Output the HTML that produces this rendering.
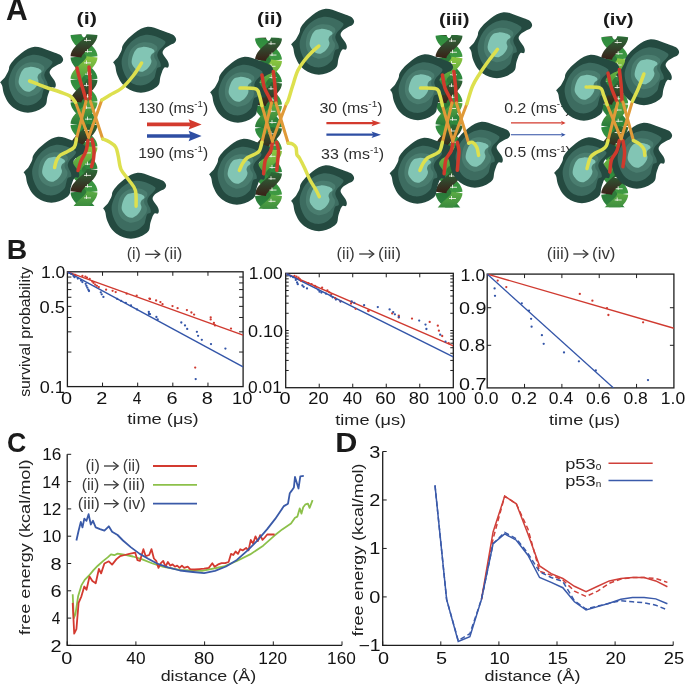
<!DOCTYPE html>
<html><head><meta charset="utf-8"><style>
html,body{margin:0;padding:0;background:#fff;}
svg{display:block;font-family:"Liberation Sans",sans-serif;will-change:transform;}
</style></head><body>
<svg width="685" height="685" viewBox="0 0 685 685">
<defs><linearGradient id="gdark" x1="0" y1="0" x2="0" y2="1"><stop offset="0" stop-color="#2c6a36"/><stop offset="0.55" stop-color="#33412a"/><stop offset="1" stop-color="#3a2218"/></linearGradient>
<linearGradient id="glight" x1="0" y1="0" x2="0" y2="1"><stop offset="0" stop-color="#8cc63f"/><stop offset="1" stop-color="#4a9e40"/></linearGradient>
<linearGradient id="gmid" x1="0" y1="0" x2="0" y2="1"><stop offset="0" stop-color="#5aaa44"/><stop offset="1" stop-color="#2a7a3a"/></linearGradient>
<linearGradient id="gback" x1="0" y1="0" x2="0" y2="1"><stop offset="0" stop-color="#2e8a3e"/><stop offset="1" stop-color="#3f9a42"/></linearGradient>
<linearGradient id="gback2" x1="0" y1="0" x2="0" y2="1"><stop offset="0" stop-color="#2a7a3a"/><stop offset="1" stop-color="#2f8a3e"/></linearGradient><g id="blob" transform="matrix(1,0,0,1.048,0,-1.8)"><path d="M0.4,35.1C1,34.1 3.43,32.65 4.8,30.8C6.17,28.95 7.8,25.85 8.6,24C9.4,22.15 8.63,21.45 9.6,19.7C10.57,17.95 12.47,15.5 14.4,13.5C16.33,11.5 18.95,9.4 21.2,7.7C23.45,6 25.67,4.35 27.9,3.3C30.13,2.25 32.35,1.55 34.6,1.4C36.85,1.25 39.15,1.83 41.4,2.4C43.65,2.97 45.85,4 48.1,4.8C50.35,5.6 52.8,6.4 54.9,7.2C57,8 59.33,8.55 60.7,9.6C62.07,10.65 62.95,12.3 63.1,13.5C63.25,14.7 62.65,15.85 61.6,16.8C60.55,17.75 58.4,18.32 56.8,19.2C55.2,20.08 53.2,20.97 52,22.1C50.8,23.23 49.68,24.72 49.6,26C49.52,27.28 50.7,28.52 51.5,29.8C52.3,31.08 53.68,32.42 54.4,33.7C55.12,34.98 55.72,36.38 55.8,37.5C55.88,38.62 55.62,39.92 54.9,40.4C54.18,40.88 52.47,39.75 51.5,40.4C50.53,41.05 49.82,42.68 49.1,44.3C48.38,45.92 47.68,48.18 47.2,50.1C46.72,52.02 47,54.2 46.2,55.8C45.4,57.4 44.17,58.48 42.4,59.7C40.63,60.92 38.02,62.3 35.6,63.1C33.18,63.9 30.47,64.5 27.9,64.5C25.33,64.5 22.6,63.9 20.2,63.1C17.8,62.3 15.58,61.23 13.5,59.7C11.42,58.17 9.32,56.15 7.7,53.9C6.08,51.65 4.68,48.6 3.8,46.2C2.92,43.8 2.83,41.07 2.4,39.5C1.97,37.93 1.53,37.53 1.2,36.8C0.87,36.07 -0.2,36.1 0.4,35.1Z" fill="#244a40"/><path d="M8.6,34.6C8.68,31.87 9.63,29.3 10.6,26.9C11.57,24.5 12.8,22.28 14.4,20.2C16,18.12 18.12,16 20.2,14.4C22.28,12.8 24.5,11.48 26.9,10.6C29.3,9.72 32.02,9.1 34.6,9.1C37.18,9.1 39.98,9.87 42.4,10.6C44.82,11.33 47.42,12.55 49.1,13.5C50.78,14.45 52.33,15.18 52.5,16.3C52.67,17.42 51.15,18.92 50.1,20.2C49.05,21.48 47.17,22.72 46.2,24C45.23,25.28 44.47,26.6 44.3,27.9C44.13,29.2 44.72,30.52 45.2,31.8C45.68,33.08 46.78,34.32 47.2,35.6C47.62,36.88 48.18,38.62 47.7,39.5C47.22,40.38 45.12,39.95 44.3,40.9C43.48,41.85 43.28,43.67 42.8,45.2C42.32,46.73 42.28,48.65 41.4,50.1C40.52,51.55 39.1,52.78 37.5,53.9C35.9,55.02 33.88,56.23 31.8,56.8C29.72,57.37 27.25,57.62 25,57.3C22.75,56.98 20.22,56.1 18.3,54.9C16.38,53.7 14.87,52.03 13.5,50.1C12.13,48.17 10.92,45.88 10.1,43.3C9.28,40.72 8.52,37.33 8.6,34.6Z" fill="#3d6c60"/><path d="M14.9,35.6C14.83,33.35 15.18,30.15 15.9,27.9C16.62,25.65 17.85,23.7 19.2,22.1C20.55,20.5 22.07,19.27 24,18.3C25.93,17.33 28.55,16.55 30.8,16.3C33.05,16.05 35.42,16.23 37.5,16.8C39.58,17.37 42.17,18.65 43.3,19.7C44.43,20.75 44.62,21.9 44.3,23.1C43.98,24.3 41.88,25.62 41.4,26.9C40.92,28.18 41,29.52 41.4,30.8C41.8,32.08 43.48,33.15 43.8,34.6C44.12,36.05 44.02,37.88 43.3,39.5C42.58,41.12 41.1,42.87 39.5,44.3C37.9,45.73 35.8,47.3 33.7,48.1C31.6,48.9 29.15,49.42 26.9,49.1C24.65,48.78 21.97,47.48 20.2,46.2C18.43,44.92 17.18,43.17 16.3,41.4C15.42,39.63 14.97,37.85 14.9,35.6Z" fill="#4a7d6f"/><path d="M18.7,33.7C18.95,31.93 19.73,28.83 20.7,26.9C21.67,24.97 22.98,23.13 24.5,22.1C26.02,21.07 27.95,20.85 29.8,20.7C31.65,20.55 33.83,20.8 35.6,21.2C37.37,21.6 39.43,22.38 40.4,23.1C41.37,23.82 41.72,24.7 41.4,25.5C41.08,26.3 39.15,27.02 38.5,27.9C37.85,28.78 37.5,29.75 37.5,30.8C37.5,31.85 38.5,33.08 38.5,34.2C38.5,35.32 38.15,36.3 37.5,37.5C36.85,38.7 35.88,40.27 34.6,41.4C33.32,42.53 31.4,43.9 29.8,44.3C28.2,44.7 26.43,44.45 25,43.8C23.57,43.15 22.17,41.45 21.2,40.4C20.23,39.35 19.62,38.62 19.2,37.5C18.78,36.38 18.45,35.47 18.7,33.7Z" fill="#82c5b4"/></g><clipPath id="c1"><rect x="67.4" y="271.8" width="175.7" height="114.8"/></clipPath><clipPath id="c2"><rect x="285.7" y="273.3" width="167.6" height="114.4"/></clipPath><clipPath id="c3"><rect x="487.2" y="274.1" width="186.7" height="113.8"/></clipPath></defs>
<rect width="685" height="685" fill="#fff"/>
<text x="6.11" y="19.7" font-size="30.5" font-weight="bold" fill="#1a1a1a" textLength="21.7" lengthAdjust="spacingAndGlyphs">A</text>
<text x="76.61" y="24.3" font-size="16.8" font-weight="bold" fill="#1a1a1a" textLength="20.48" lengthAdjust="spacingAndGlyphs">(i)</text>
<text x="256.96" y="24.3" font-size="16.8" font-weight="bold" fill="#1a1a1a" textLength="25.48" lengthAdjust="spacingAndGlyphs">(ii)</text>
<text x="438.99" y="25.2" font-size="16.8" font-weight="bold" fill="#1a1a1a" textLength="30.53" lengthAdjust="spacingAndGlyphs">(iii)</text>
<text x="602.98" y="25.2" font-size="16.8" font-weight="bold" fill="#1a1a1a" textLength="30.64" lengthAdjust="spacingAndGlyphs">(iv)</text>
<text x="138.18" y="112.5" font-size="15.3" font-weight="normal" fill="#2e2e2e" textLength="69.96" lengthAdjust="spacingAndGlyphs">130 (ms<tspan font-size="9.5" dy="-5.6">-1</tspan><tspan dy="5.6">)</tspan></text>
<text x="138.18" y="157.5" font-size="15.3" font-weight="normal" fill="#2e2e2e" textLength="69.96" lengthAdjust="spacingAndGlyphs">190 (ms<tspan font-size="9.5" dy="-5.6">-1</tspan><tspan dy="5.6">)</tspan></text>
<text x="319.45" y="112.7" font-size="15.3" font-weight="normal" fill="#2e2e2e" textLength="63.12" lengthAdjust="spacingAndGlyphs">30 (ms<tspan font-size="9.5" dy="-5.6">-1</tspan><tspan dy="5.6">)</tspan></text>
<text x="321.06" y="158.6" font-size="15.3" font-weight="normal" fill="#2e2e2e" textLength="63.02" lengthAdjust="spacingAndGlyphs">33 (ms<tspan font-size="9.5" dy="-5.6">-1</tspan><tspan dy="5.6">)</tspan></text>
<text x="504.27" y="112.7" font-size="15.3" font-weight="normal" fill="#2e2e2e" textLength="66.61" lengthAdjust="spacingAndGlyphs">0.2 (ms<tspan font-size="9.5" dy="-5.6">-1</tspan><tspan dy="5.6">)</tspan></text>
<text x="504.27" y="157.3" font-size="15.3" font-weight="normal" fill="#2e2e2e" textLength="66.61" lengthAdjust="spacingAndGlyphs">0.5 (ms<tspan font-size="9.5" dy="-5.6">-1</tspan><tspan dy="5.6">)</tspan></text>
<path d="M147,124.4H191.6" stroke="#d33a2e" stroke-width="3.7"/><path d="M201.6,124.4L188.6,119.2L190.6,124.4L188.6,129.6Z" fill="#d33a2e"/>
<path d="M147,136H191.6" stroke="#2e4ea3" stroke-width="3.7"/><path d="M201.6,136L188.6,130.8L190.6,136L188.6,141.2Z" fill="#2e4ea3"/>
<path d="M326.4,123.1H374.5" stroke="#d33a2e" stroke-width="2.2"/><path d="M381,123.1L371.5,119.9L373.5,123.1L371.5,126.3Z" fill="#d33a2e"/>
<path d="M326.4,134.7H374.5" stroke="#2e4ea3" stroke-width="2.2"/><path d="M381,134.7L371.5,131.5L373.5,134.7L371.5,137.9Z" fill="#2e4ea3"/>
<path d="M511,122.9H563.6" stroke="#d33a2e" stroke-width="1.1"/><path d="M565.6,122.9L560.6,120.6L562.6,122.9L560.6,125.2Z" fill="#d33a2e"/>
<path d="M511,134.7H563.6" stroke="#2e4ea3" stroke-width="1.1"/><path d="M565.6,134.7L560.6,132.4L562.6,134.7L560.6,137Z" fill="#2e4ea3"/>
<clipPath id="dc1"><rect x="64" y="34.4" width="40" height="171.6"/></clipPath><g clip-path="url(#dc1)">
<rect x="77" y="37.4" width="14" height="165.6" fill="#2e7b3a"/>
<path d="M76,11.9 L76.2,13.51 L76.79,15.11 L77.75,16.72 L79.01,18.33 L80.53,19.94 L82.22,21.54 L84,23.15 L85.78,24.76 L87.47,26.36 L88.99,27.97 L90.25,29.58 L91.21,31.19 L91.8,32.79 L92,34.4" stroke="url(#gback2)" stroke-width="11.0" fill="none"/>
<path d="M76,34.4 L76.2,36.01 L76.79,37.61 L77.75,39.22 L79.01,40.83 L80.53,42.44 L82.22,44.04 L84,45.65 L85.78,47.26 L87.47,48.86 L88.99,50.47 L90.25,52.08 L91.21,53.69 L91.8,55.29 L92,56.9" stroke="url(#gback)" stroke-width="11.0" fill="none"/>
<path d="M76,56.9 L76.2,58.51 L76.79,60.11 L77.75,61.72 L79.01,63.33 L80.53,64.94 L82.22,66.54 L84,68.15 L85.78,69.76 L87.47,71.36 L88.99,72.97 L90.25,74.58 L91.21,76.19 L91.8,77.79 L92,79.4" stroke="url(#gback2)" stroke-width="11.0" fill="none"/>
<path d="M76,79.4 L76.2,81.01 L76.79,82.61 L77.75,84.22 L79.01,85.83 L80.53,87.44 L82.22,89.04 L84,90.65 L85.78,92.26 L87.47,93.86 L88.99,95.47 L90.25,97.08 L91.21,98.69 L91.8,100.29 L92,101.9" stroke="url(#gback)" stroke-width="11.0" fill="none"/>
<path d="M76,101.9 L76.2,103.51 L76.79,105.11 L77.75,106.72 L79.01,108.33 L80.53,109.94 L82.22,111.54 L84,113.15 L85.78,114.76 L87.47,116.36 L88.99,117.97 L90.25,119.58 L91.21,121.19 L91.8,122.79 L92,124.4" stroke="url(#gback2)" stroke-width="11.0" fill="none"/>
<path d="M76,124.4 L76.2,126.01 L76.79,127.61 L77.75,129.22 L79.01,130.83 L80.53,132.44 L82.22,134.04 L84,135.65 L85.78,137.26 L87.47,138.86 L88.99,140.47 L90.25,142.08 L91.21,143.69 L91.8,145.29 L92,146.9" stroke="url(#gback)" stroke-width="11.0" fill="none"/>
<path d="M76,146.9 L76.2,148.51 L76.79,150.11 L77.75,151.72 L79.01,153.33 L80.53,154.94 L82.22,156.54 L84,158.15 L85.78,159.76 L87.47,161.36 L88.99,162.97 L90.25,164.58 L91.21,166.19 L91.8,167.79 L92,169.4" stroke="url(#gback2)" stroke-width="11.0" fill="none"/>
<path d="M76,169.4 L76.2,171.01 L76.79,172.61 L77.75,174.22 L79.01,175.83 L80.53,177.44 L82.22,179.04 L84,180.65 L85.78,182.26 L87.47,183.86 L88.99,185.47 L90.25,187.08 L91.21,188.69 L91.8,190.29 L92,191.9" stroke="url(#gback)" stroke-width="11.0" fill="none"/>
<path d="M76,191.9 L76.2,193.51 L76.79,195.11 L77.75,196.72 L79.01,198.33 L80.53,199.94 L82.22,201.54 L84,203.15 L85.78,204.76 L87.47,206.36 L88.99,207.97 L90.25,209.58 L91.21,211.19 L91.8,212.79 L92,214.4" stroke="url(#gback2)" stroke-width="11.0" fill="none"/>
<path d="M76,214.4 L76.2,216.01 L76.79,217.61 L77.75,219.22 L79.01,220.83 L80.53,222.44 L82.22,224.04 L84,225.65 L85.78,227.26 L87.47,228.86 L88.99,230.47 L90.25,232.08 L91.21,233.69 L91.8,235.29 L92,236.9" stroke="url(#gback)" stroke-width="11.0" fill="none"/>
<path d="M92,11.9 L91.8,13.51 L91.21,15.11 L90.25,16.72 L88.99,18.33 L87.47,19.94 L85.78,21.54 L84,23.15 L82.22,24.76 L80.53,26.36 L79.01,27.97 L77.75,29.58 L76.79,31.19 L76.2,32.79 L76,34.4" stroke="url(#gdark)" stroke-width="11.0" fill="none"/>
<path d="M92,34.4 L91.8,36.01 L91.21,37.61 L90.25,39.22 L88.99,40.83 L87.47,42.44 L85.78,44.04 L84,45.65 L82.22,47.26 L80.53,48.86 L79.01,50.47 L77.75,52.08 L76.79,53.69 L76.2,55.29 L76,56.9" stroke="url(#gdark)" stroke-width="11.0" fill="none"/>
<path d="M92,56.9 L91.8,58.51 L91.21,60.11 L90.25,61.72 L88.99,63.33 L87.47,64.94 L85.78,66.54 L84,68.15 L82.22,69.76 L80.53,71.36 L79.01,72.97 L77.75,74.58 L76.79,76.19 L76.2,77.79 L76,79.4" stroke="url(#glight)" stroke-width="11.0" fill="none"/>
<path d="M92,79.4 L91.8,81.01 L91.21,82.61 L90.25,84.22 L88.99,85.83 L87.47,87.44 L85.78,89.04 L84,90.65 L82.22,92.26 L80.53,93.86 L79.01,95.47 L77.75,97.08 L76.79,98.69 L76.2,100.29 L76,101.9" stroke="url(#gdark)" stroke-width="11.0" fill="none"/>
<path d="M92,101.9 L91.8,103.51 L91.21,105.11 L90.25,106.72 L88.99,108.33 L87.47,109.94 L85.78,111.54 L84,113.15 L82.22,114.76 L80.53,116.36 L79.01,117.97 L77.75,119.58 L76.79,121.19 L76.2,122.79 L76,124.4" stroke="url(#gmid)" stroke-width="11.0" fill="none"/>
<path d="M92,124.4 L91.8,126.01 L91.21,127.61 L90.25,129.22 L88.99,130.83 L87.47,132.44 L85.78,134.04 L84,135.65 L82.22,137.26 L80.53,138.86 L79.01,140.47 L77.75,142.08 L76.79,143.69 L76.2,145.29 L76,146.9" stroke="url(#gdark)" stroke-width="11.0" fill="none"/>
<path d="M92,146.9 L91.8,148.51 L91.21,150.11 L90.25,151.72 L88.99,153.33 L87.47,154.94 L85.78,156.54 L84,158.15 L82.22,159.76 L80.53,161.36 L79.01,162.97 L77.75,164.58 L76.79,166.19 L76.2,167.79 L76,169.4" stroke="url(#glight)" stroke-width="11.0" fill="none"/>
<path d="M92,169.4 L91.8,171.01 L91.21,172.61 L90.25,174.22 L88.99,175.83 L87.47,177.44 L85.78,179.04 L84,180.65 L82.22,182.26 L80.53,183.86 L79.01,185.47 L77.75,187.08 L76.79,188.69 L76.2,190.29 L76,191.9" stroke="url(#gdark)" stroke-width="11.0" fill="none"/>
<path d="M92,191.9 L91.8,193.51 L91.21,195.11 L90.25,196.72 L88.99,198.33 L87.47,199.94 L85.78,201.54 L84,203.15 L82.22,204.76 L80.53,206.36 L79.01,207.97 L77.75,209.58 L76.79,211.19 L76.2,212.79 L76,214.4" stroke="url(#gmid)" stroke-width="11.0" fill="none"/>
<path d="M92,214.4 L91.8,216.01 L91.21,217.61 L90.25,219.22 L88.99,220.83 L87.47,222.44 L85.78,224.04 L84,225.65 L82.22,227.26 L80.53,228.86 L79.01,230.47 L77.75,232.08 L76.79,233.69 L76.2,235.29 L76,236.9" stroke="url(#gdark)" stroke-width="11.0" fill="none"/>
<path d="M84,40.4h7M86.5,37.9v3.5" stroke="#f6f6ee" stroke-width="1" fill="none" opacity="0.85"/>
<path d="M85,51.65h7M87.5,49.15v3.5" stroke="#f6f6ee" stroke-width="1" fill="none" opacity="0.85"/>
<path d="M84,62.9h7M86.5,60.4v3.5" stroke="#f6f6ee" stroke-width="1" fill="none" opacity="0.85"/>
<path d="M85,74.15h7M87.5,71.65v3.5" stroke="#f6f6ee" stroke-width="1" fill="none" opacity="0.85"/>
<path d="M84,85.4h7M86.5,82.9v3.5" stroke="#f6f6ee" stroke-width="1" fill="none" opacity="0.85"/>
<path d="M85,96.65h7M87.5,94.15v3.5" stroke="#f6f6ee" stroke-width="1" fill="none" opacity="0.85"/>
<path d="M84,107.9h7M86.5,105.4v3.5" stroke="#f6f6ee" stroke-width="1" fill="none" opacity="0.85"/>
<path d="M85,119.15h7M87.5,116.65v3.5" stroke="#f6f6ee" stroke-width="1" fill="none" opacity="0.85"/>
<path d="M84,130.4h7M86.5,127.9v3.5" stroke="#f6f6ee" stroke-width="1" fill="none" opacity="0.85"/>
<path d="M85,141.65h7M87.5,139.15v3.5" stroke="#f6f6ee" stroke-width="1" fill="none" opacity="0.85"/>
<path d="M84,152.9h7M86.5,150.4v3.5" stroke="#f6f6ee" stroke-width="1" fill="none" opacity="0.85"/>
<path d="M85,164.15h7M87.5,161.65v3.5" stroke="#f6f6ee" stroke-width="1" fill="none" opacity="0.85"/>
<path d="M84,175.4h7M86.5,172.9v3.5" stroke="#f6f6ee" stroke-width="1" fill="none" opacity="0.85"/>
<path d="M85,186.65h7M87.5,184.15v3.5" stroke="#f6f6ee" stroke-width="1" fill="none" opacity="0.85"/>
<path d="M84,197.9h7M86.5,195.4v3.5" stroke="#f6f6ee" stroke-width="1" fill="none" opacity="0.85"/>
</g><use href="#blob" x="0" y="47"/><use href="#blob" x="113" y="27"/><use href="#blob" x="23.5" y="137"/><use href="#blob" x="103" y="173"/><path d="M77,68C77.5,70 78.92,76.17 80,80C81.08,83.83 82.5,87.67 83.5,91C84.5,94.33 85.58,98.5 86,100" stroke="#cf3a2c" stroke-width="3.5" fill="none" stroke-linecap="round" stroke-linejoin="round"/><path d="M89,67C89.17,69.17 89.78,76.17 90,80C90.22,83.83 90.3,86.83 90.3,90C90.3,93.17 90.05,97.5 90,99" stroke="#cf3a2c" stroke-width="3.5" fill="none" stroke-linecap="round" stroke-linejoin="round"/><path d="M88,140.5C87.67,142.25 87.17,147.58 86,151C84.83,154.42 82.33,157.75 81,161C79.67,164.25 78.5,168.92 78,170.5" stroke="#cf3a2c" stroke-width="3.5" fill="none" stroke-linecap="round" stroke-linejoin="round"/><path d="M92,139.2C92.33,141 93.75,146.7 94,150C94.25,153.3 93.92,156.2 93.5,159C93.08,161.8 91.83,165.5 91.5,166.8" stroke="#cf3a2c" stroke-width="3.5" fill="none" stroke-linecap="round" stroke-linejoin="round"/><path d="M75.5,102.3C77.68,108.13 86.42,131.47 88.6,137.3" stroke="#e09a38" stroke-width="3.0" fill="none" stroke-linecap="round" stroke-linejoin="round"/><path d="M86,101.4C84.4,107.67 78,132.73 76.4,139" stroke="#e09a38" stroke-width="3.0" fill="none" stroke-linecap="round" stroke-linejoin="round"/><path d="M90.4,101.4C92.45,107.67 100.65,132.73 102.7,139" stroke="#e09a38" stroke-width="3.0" fill="none" stroke-linecap="round" stroke-linejoin="round"/><path d="M101.8,100C99.6,106.22 90.8,131.08 88.6,137.3" stroke="#e09a38" stroke-width="3.0" fill="none" stroke-linecap="round" stroke-linejoin="round"/><path d="M29.6,81C32.17,82 39.93,85.17 45,87C50.07,88.83 55.83,90.5 60,92C64.17,93.5 67.42,94.28 70,96C72.58,97.72 74.58,101.25 75.5,102.3" stroke="#dde04e" stroke-width="3.5" fill="none" stroke-linecap="round" stroke-linejoin="round"/><path d="M141.6,63C140.17,65.17 136.27,71.83 133,76C129.73,80.17 125.83,84.83 122,88C118.17,91.17 113.37,93 110,95C106.63,97 103.17,99.17 101.8,100" stroke="#dde04e" stroke-width="3.5" fill="none" stroke-linecap="round" stroke-linejoin="round"/><path d="M76.4,139C76.05,140.35 75.85,144.98 74.3,147.1C72.75,149.22 69.4,150.38 67.1,151.7C64.8,153.02 62.25,153.58 60.5,155C58.75,156.42 57.58,158.12 56.6,160.2C55.62,162.28 54.93,166.28 54.6,167.5" stroke="#dde04e" stroke-width="3.5" fill="none" stroke-linecap="round" stroke-linejoin="round"/><path d="M102.7,139C103.77,139.47 106.93,140.45 109.1,141.8C111.27,143.15 114.17,144.68 115.7,147.1C117.23,149.52 117.42,152.58 118.3,156.3C119.18,160.02 119.25,165.47 121,169.4C122.75,173.33 126.4,176.4 128.8,179.9C131.2,183.4 134.18,186.02 135.4,190.4C136.62,194.78 135.98,203.57 136.1,206.2" stroke="#dde04e" stroke-width="3.5" fill="none" stroke-linecap="round" stroke-linejoin="round"/>
<clipPath id="dc2"><rect x="248.5" y="37.8" width="40" height="170.9"/></clipPath><g clip-path="url(#dc2)">
<rect x="261.5" y="40.8" width="14" height="164.9" fill="#2e7b3a"/>
<path d="M260.5,15.3 L260.7,16.91 L261.29,18.51 L262.25,20.12 L263.51,21.73 L265.03,23.34 L266.72,24.94 L268.5,26.55 L270.28,28.16 L271.97,29.76 L273.49,31.37 L274.75,32.98 L275.71,34.59 L276.3,36.19 L276.5,37.8" stroke="url(#gback2)" stroke-width="11.0" fill="none"/>
<path d="M260.5,37.8 L260.7,39.41 L261.29,41.01 L262.25,42.62 L263.51,44.23 L265.03,45.84 L266.72,47.44 L268.5,49.05 L270.28,50.66 L271.97,52.26 L273.49,53.87 L274.75,55.48 L275.71,57.09 L276.3,58.69 L276.5,60.3" stroke="url(#gback)" stroke-width="11.0" fill="none"/>
<path d="M260.5,60.3 L260.7,61.91 L261.29,63.51 L262.25,65.12 L263.51,66.73 L265.03,68.34 L266.72,69.94 L268.5,71.55 L270.28,73.16 L271.97,74.76 L273.49,76.37 L274.75,77.98 L275.71,79.59 L276.3,81.19 L276.5,82.8" stroke="url(#gback2)" stroke-width="11.0" fill="none"/>
<path d="M260.5,82.8 L260.7,84.41 L261.29,86.01 L262.25,87.62 L263.51,89.23 L265.03,90.84 L266.72,92.44 L268.5,94.05 L270.28,95.66 L271.97,97.26 L273.49,98.87 L274.75,100.48 L275.71,102.09 L276.3,103.69 L276.5,105.3" stroke="url(#gback)" stroke-width="11.0" fill="none"/>
<path d="M260.5,105.3 L260.7,106.91 L261.29,108.51 L262.25,110.12 L263.51,111.73 L265.03,113.34 L266.72,114.94 L268.5,116.55 L270.28,118.16 L271.97,119.76 L273.49,121.37 L274.75,122.98 L275.71,124.59 L276.3,126.19 L276.5,127.8" stroke="url(#gback2)" stroke-width="11.0" fill="none"/>
<path d="M260.5,127.8 L260.7,129.41 L261.29,131.01 L262.25,132.62 L263.51,134.23 L265.03,135.84 L266.72,137.44 L268.5,139.05 L270.28,140.66 L271.97,142.26 L273.49,143.87 L274.75,145.48 L275.71,147.09 L276.3,148.69 L276.5,150.3" stroke="url(#gback)" stroke-width="11.0" fill="none"/>
<path d="M260.5,150.3 L260.7,151.91 L261.29,153.51 L262.25,155.12 L263.51,156.73 L265.03,158.34 L266.72,159.94 L268.5,161.55 L270.28,163.16 L271.97,164.76 L273.49,166.37 L274.75,167.98 L275.71,169.59 L276.3,171.19 L276.5,172.8" stroke="url(#gback2)" stroke-width="11.0" fill="none"/>
<path d="M260.5,172.8 L260.7,174.41 L261.29,176.01 L262.25,177.62 L263.51,179.23 L265.03,180.84 L266.72,182.44 L268.5,184.05 L270.28,185.66 L271.97,187.26 L273.49,188.87 L274.75,190.48 L275.71,192.09 L276.3,193.69 L276.5,195.3" stroke="url(#gback)" stroke-width="11.0" fill="none"/>
<path d="M260.5,195.3 L260.7,196.91 L261.29,198.51 L262.25,200.12 L263.51,201.73 L265.03,203.34 L266.72,204.94 L268.5,206.55 L270.28,208.16 L271.97,209.76 L273.49,211.37 L274.75,212.98 L275.71,214.59 L276.3,216.19 L276.5,217.8" stroke="url(#gback2)" stroke-width="11.0" fill="none"/>
<path d="M260.5,217.8 L260.7,219.41 L261.29,221.01 L262.25,222.62 L263.51,224.23 L265.03,225.84 L266.72,227.44 L268.5,229.05 L270.28,230.66 L271.97,232.26 L273.49,233.87 L274.75,235.48 L275.71,237.09 L276.3,238.69 L276.5,240.3" stroke="url(#gback)" stroke-width="11.0" fill="none"/>
<path d="M276.5,15.3 L276.3,16.91 L275.71,18.51 L274.75,20.12 L273.49,21.73 L271.97,23.34 L270.28,24.94 L268.5,26.55 L266.72,28.16 L265.03,29.76 L263.51,31.37 L262.25,32.98 L261.29,34.59 L260.7,36.19 L260.5,37.8" stroke="url(#gdark)" stroke-width="11.0" fill="none"/>
<path d="M276.5,37.8 L276.3,39.41 L275.71,41.01 L274.75,42.62 L273.49,44.23 L271.97,45.84 L270.28,47.44 L268.5,49.05 L266.72,50.66 L265.03,52.26 L263.51,53.87 L262.25,55.48 L261.29,57.09 L260.7,58.69 L260.5,60.3" stroke="url(#gdark)" stroke-width="11.0" fill="none"/>
<path d="M276.5,60.3 L276.3,61.91 L275.71,63.51 L274.75,65.12 L273.49,66.73 L271.97,68.34 L270.28,69.94 L268.5,71.55 L266.72,73.16 L265.03,74.76 L263.51,76.37 L262.25,77.98 L261.29,79.59 L260.7,81.19 L260.5,82.8" stroke="url(#glight)" stroke-width="11.0" fill="none"/>
<path d="M276.5,82.8 L276.3,84.41 L275.71,86.01 L274.75,87.62 L273.49,89.23 L271.97,90.84 L270.28,92.44 L268.5,94.05 L266.72,95.66 L265.03,97.26 L263.51,98.87 L262.25,100.48 L261.29,102.09 L260.7,103.69 L260.5,105.3" stroke="url(#gdark)" stroke-width="11.0" fill="none"/>
<path d="M276.5,105.3 L276.3,106.91 L275.71,108.51 L274.75,110.12 L273.49,111.73 L271.97,113.34 L270.28,114.94 L268.5,116.55 L266.72,118.16 L265.03,119.76 L263.51,121.37 L262.25,122.98 L261.29,124.59 L260.7,126.19 L260.5,127.8" stroke="url(#gmid)" stroke-width="11.0" fill="none"/>
<path d="M276.5,127.8 L276.3,129.41 L275.71,131.01 L274.75,132.62 L273.49,134.23 L271.97,135.84 L270.28,137.44 L268.5,139.05 L266.72,140.66 L265.03,142.26 L263.51,143.87 L262.25,145.48 L261.29,147.09 L260.7,148.69 L260.5,150.3" stroke="url(#gdark)" stroke-width="11.0" fill="none"/>
<path d="M276.5,150.3 L276.3,151.91 L275.71,153.51 L274.75,155.12 L273.49,156.73 L271.97,158.34 L270.28,159.94 L268.5,161.55 L266.72,163.16 L265.03,164.76 L263.51,166.37 L262.25,167.98 L261.29,169.59 L260.7,171.19 L260.5,172.8" stroke="url(#glight)" stroke-width="11.0" fill="none"/>
<path d="M276.5,172.8 L276.3,174.41 L275.71,176.01 L274.75,177.62 L273.49,179.23 L271.97,180.84 L270.28,182.44 L268.5,184.05 L266.72,185.66 L265.03,187.26 L263.51,188.87 L262.25,190.48 L261.29,192.09 L260.7,193.69 L260.5,195.3" stroke="url(#gdark)" stroke-width="11.0" fill="none"/>
<path d="M276.5,195.3 L276.3,196.91 L275.71,198.51 L274.75,200.12 L273.49,201.73 L271.97,203.34 L270.28,204.94 L268.5,206.55 L266.72,208.16 L265.03,209.76 L263.51,211.37 L262.25,212.98 L261.29,214.59 L260.7,216.19 L260.5,217.8" stroke="url(#gmid)" stroke-width="11.0" fill="none"/>
<path d="M276.5,217.8 L276.3,219.41 L275.71,221.01 L274.75,222.62 L273.49,224.23 L271.97,225.84 L270.28,227.44 L268.5,229.05 L266.72,230.66 L265.03,232.26 L263.51,233.87 L262.25,235.48 L261.29,237.09 L260.7,238.69 L260.5,240.3" stroke="url(#gdark)" stroke-width="11.0" fill="none"/>
<path d="M268.5,43.8h7M271,41.3v3.5" stroke="#f6f6ee" stroke-width="1" fill="none" opacity="0.85"/>
<path d="M269.5,55.05h7M272,52.55v3.5" stroke="#f6f6ee" stroke-width="1" fill="none" opacity="0.85"/>
<path d="M268.5,66.3h7M271,63.8v3.5" stroke="#f6f6ee" stroke-width="1" fill="none" opacity="0.85"/>
<path d="M269.5,77.55h7M272,75.05v3.5" stroke="#f6f6ee" stroke-width="1" fill="none" opacity="0.85"/>
<path d="M268.5,88.8h7M271,86.3v3.5" stroke="#f6f6ee" stroke-width="1" fill="none" opacity="0.85"/>
<path d="M269.5,100.05h7M272,97.55v3.5" stroke="#f6f6ee" stroke-width="1" fill="none" opacity="0.85"/>
<path d="M268.5,111.3h7M271,108.8v3.5" stroke="#f6f6ee" stroke-width="1" fill="none" opacity="0.85"/>
<path d="M269.5,122.55h7M272,120.05v3.5" stroke="#f6f6ee" stroke-width="1" fill="none" opacity="0.85"/>
<path d="M268.5,133.8h7M271,131.3v3.5" stroke="#f6f6ee" stroke-width="1" fill="none" opacity="0.85"/>
<path d="M269.5,145.05h7M272,142.55v3.5" stroke="#f6f6ee" stroke-width="1" fill="none" opacity="0.85"/>
<path d="M268.5,156.3h7M271,153.8v3.5" stroke="#f6f6ee" stroke-width="1" fill="none" opacity="0.85"/>
<path d="M269.5,167.55h7M272,165.05v3.5" stroke="#f6f6ee" stroke-width="1" fill="none" opacity="0.85"/>
<path d="M268.5,178.8h7M271,176.3v3.5" stroke="#f6f6ee" stroke-width="1" fill="none" opacity="0.85"/>
<path d="M269.5,190.05h7M272,187.55v3.5" stroke="#f6f6ee" stroke-width="1" fill="none" opacity="0.85"/>
<path d="M268.5,201.3h7M271,198.8v3.5" stroke="#f6f6ee" stroke-width="1" fill="none" opacity="0.85"/>
</g><use href="#blob" x="210" y="57"/><use href="#blob" x="291" y="9"/><use href="#blob" x="209" y="139"/><use href="#blob" x="291" y="165.5"/><path d="M261.9,74.9C262.33,77.08 263.33,84.35 264.5,88C265.67,91.65 267.73,94.32 268.9,96.8C270.07,99.28 271.07,101.88 271.5,102.9" stroke="#cf3a2c" stroke-width="3.5" fill="none" stroke-linecap="round" stroke-linejoin="round"/><path d="M273.3,71.4C273.58,73.88 274.57,81.2 275,86.3C275.43,91.4 275.75,99.38 275.9,102" stroke="#cf3a2c" stroke-width="3.5" fill="none" stroke-linecap="round" stroke-linejoin="round"/><path d="M272.4,142.3C272.1,143.75 271.77,148.08 270.6,151C269.43,153.92 266.57,156 265.4,159.8C264.23,163.6 263.9,171.47 263.6,173.8" stroke="#cf3a2c" stroke-width="3.5" fill="none" stroke-linecap="round" stroke-linejoin="round"/><path d="M276.8,142.3C277.08,143.75 278.37,147.78 278.5,151C278.63,154.22 277.88,158.38 277.6,161.6C277.32,164.82 276.93,168.85 276.8,170.3" stroke="#cf3a2c" stroke-width="3.5" fill="none" stroke-linecap="round" stroke-linejoin="round"/><path d="M261.9,105.5C263.65,111.48 270.65,135.42 272.4,141.4" stroke="#e09a38" stroke-width="3.0" fill="none" stroke-linecap="round" stroke-linejoin="round"/><path d="M271.5,102.9C269.9,109.47 263.5,135.73 261.9,142.3" stroke="#e09a38" stroke-width="3.0" fill="none" stroke-linecap="round" stroke-linejoin="round"/><path d="M275.9,102.9C277.95,109.62 286.15,136.48 288.2,143.2" stroke="#e09a38" stroke-width="3.0" fill="none" stroke-linecap="round" stroke-linejoin="round"/><path d="M286.4,103.8C284.07,109.92 274.73,134.38 272.4,140.5" stroke="#e09a38" stroke-width="3.0" fill="none" stroke-linecap="round" stroke-linejoin="round"/><path d="M240,88.1C242.63,88.23 252.58,87.75 255.8,88.9C259.02,90.05 258.28,92.23 259.3,95C260.32,97.77 261.47,103.75 261.9,105.5" stroke="#dde04e" stroke-width="3.5" fill="none" stroke-linecap="round" stroke-linejoin="round"/><path d="M261.9,142.3C261.47,143.75 260.62,148.95 259.3,151C257.98,153.05 256.05,153.43 254,154.6C251.95,155.77 248.9,156.55 247,158C245.1,159.45 243.87,161.23 242.6,163.3C241.33,165.37 239.93,169.22 239.4,170.4" stroke="#dde04e" stroke-width="3.5" fill="none" stroke-linecap="round" stroke-linejoin="round"/><path d="M286.4,103.8C286.7,103.22 287.18,103.22 288.2,100.3C289.22,97.38 290.9,91.27 292.5,86.3C294.1,81.33 295.75,74.88 297.8,70.5C299.85,66.12 302.43,63.08 304.8,60C307.17,56.92 309.67,54.33 312,52C314.33,49.67 317.67,47 318.8,46" stroke="#dde04e" stroke-width="3.5" fill="none" stroke-linecap="round" stroke-linejoin="round"/><path d="M288.2,143.2C288.92,143.33 291.2,143.28 292.5,144C293.8,144.72 295.27,145.73 296,147.5C296.73,149.27 296.32,152.85 296.9,154.6C297.48,156.35 298.18,155.68 299.5,158C300.82,160.32 303.05,164.83 304.8,168.5C306.55,172.17 308.13,176.42 310,180C311.87,183.58 314.45,187.23 316,190C317.55,192.77 318.75,195.5 319.3,196.6" stroke="#dde04e" stroke-width="3.5" fill="none" stroke-linecap="round" stroke-linejoin="round"/>
<clipPath id="dc3"><rect x="429" y="35" width="40" height="172.6"/></clipPath><g clip-path="url(#dc3)">
<rect x="442" y="38" width="14" height="166.6" fill="#2e7b3a"/>
<path d="M441,12.5 L441.2,14.11 L441.79,15.71 L442.75,17.32 L444.01,18.93 L445.53,20.54 L447.22,22.14 L449,23.75 L450.78,25.36 L452.47,26.96 L453.99,28.57 L455.25,30.18 L456.21,31.79 L456.8,33.39 L457,35" stroke="url(#gback2)" stroke-width="11.0" fill="none"/>
<path d="M441,35 L441.2,36.61 L441.79,38.21 L442.75,39.82 L444.01,41.43 L445.53,43.04 L447.22,44.64 L449,46.25 L450.78,47.86 L452.47,49.46 L453.99,51.07 L455.25,52.68 L456.21,54.29 L456.8,55.89 L457,57.5" stroke="url(#gback)" stroke-width="11.0" fill="none"/>
<path d="M441,57.5 L441.2,59.11 L441.79,60.71 L442.75,62.32 L444.01,63.93 L445.53,65.54 L447.22,67.14 L449,68.75 L450.78,70.36 L452.47,71.96 L453.99,73.57 L455.25,75.18 L456.21,76.79 L456.8,78.39 L457,80" stroke="url(#gback2)" stroke-width="11.0" fill="none"/>
<path d="M441,80 L441.2,81.61 L441.79,83.21 L442.75,84.82 L444.01,86.43 L445.53,88.04 L447.22,89.64 L449,91.25 L450.78,92.86 L452.47,94.46 L453.99,96.07 L455.25,97.68 L456.21,99.29 L456.8,100.89 L457,102.5" stroke="url(#gback)" stroke-width="11.0" fill="none"/>
<path d="M441,102.5 L441.2,104.11 L441.79,105.71 L442.75,107.32 L444.01,108.93 L445.53,110.54 L447.22,112.14 L449,113.75 L450.78,115.36 L452.47,116.96 L453.99,118.57 L455.25,120.18 L456.21,121.79 L456.8,123.39 L457,125" stroke="url(#gback2)" stroke-width="11.0" fill="none"/>
<path d="M441,125 L441.2,126.61 L441.79,128.21 L442.75,129.82 L444.01,131.43 L445.53,133.04 L447.22,134.64 L449,136.25 L450.78,137.86 L452.47,139.46 L453.99,141.07 L455.25,142.68 L456.21,144.29 L456.8,145.89 L457,147.5" stroke="url(#gback)" stroke-width="11.0" fill="none"/>
<path d="M441,147.5 L441.2,149.11 L441.79,150.71 L442.75,152.32 L444.01,153.93 L445.53,155.54 L447.22,157.14 L449,158.75 L450.78,160.36 L452.47,161.96 L453.99,163.57 L455.25,165.18 L456.21,166.79 L456.8,168.39 L457,170" stroke="url(#gback2)" stroke-width="11.0" fill="none"/>
<path d="M441,170 L441.2,171.61 L441.79,173.21 L442.75,174.82 L444.01,176.43 L445.53,178.04 L447.22,179.64 L449,181.25 L450.78,182.86 L452.47,184.46 L453.99,186.07 L455.25,187.68 L456.21,189.29 L456.8,190.89 L457,192.5" stroke="url(#gback)" stroke-width="11.0" fill="none"/>
<path d="M441,192.5 L441.2,194.11 L441.79,195.71 L442.75,197.32 L444.01,198.93 L445.53,200.54 L447.22,202.14 L449,203.75 L450.78,205.36 L452.47,206.96 L453.99,208.57 L455.25,210.18 L456.21,211.79 L456.8,213.39 L457,215" stroke="url(#gback2)" stroke-width="11.0" fill="none"/>
<path d="M441,215 L441.2,216.61 L441.79,218.21 L442.75,219.82 L444.01,221.43 L445.53,223.04 L447.22,224.64 L449,226.25 L450.78,227.86 L452.47,229.46 L453.99,231.07 L455.25,232.68 L456.21,234.29 L456.8,235.89 L457,237.5" stroke="url(#gback)" stroke-width="11.0" fill="none"/>
<path d="M457,12.5 L456.8,14.11 L456.21,15.71 L455.25,17.32 L453.99,18.93 L452.47,20.54 L450.78,22.14 L449,23.75 L447.22,25.36 L445.53,26.96 L444.01,28.57 L442.75,30.18 L441.79,31.79 L441.2,33.39 L441,35" stroke="url(#gdark)" stroke-width="11.0" fill="none"/>
<path d="M457,35 L456.8,36.61 L456.21,38.21 L455.25,39.82 L453.99,41.43 L452.47,43.04 L450.78,44.64 L449,46.25 L447.22,47.86 L445.53,49.46 L444.01,51.07 L442.75,52.68 L441.79,54.29 L441.2,55.89 L441,57.5" stroke="url(#gdark)" stroke-width="11.0" fill="none"/>
<path d="M457,57.5 L456.8,59.11 L456.21,60.71 L455.25,62.32 L453.99,63.93 L452.47,65.54 L450.78,67.14 L449,68.75 L447.22,70.36 L445.53,71.96 L444.01,73.57 L442.75,75.18 L441.79,76.79 L441.2,78.39 L441,80" stroke="url(#glight)" stroke-width="11.0" fill="none"/>
<path d="M457,80 L456.8,81.61 L456.21,83.21 L455.25,84.82 L453.99,86.43 L452.47,88.04 L450.78,89.64 L449,91.25 L447.22,92.86 L445.53,94.46 L444.01,96.07 L442.75,97.68 L441.79,99.29 L441.2,100.89 L441,102.5" stroke="url(#gdark)" stroke-width="11.0" fill="none"/>
<path d="M457,102.5 L456.8,104.11 L456.21,105.71 L455.25,107.32 L453.99,108.93 L452.47,110.54 L450.78,112.14 L449,113.75 L447.22,115.36 L445.53,116.96 L444.01,118.57 L442.75,120.18 L441.79,121.79 L441.2,123.39 L441,125" stroke="url(#gmid)" stroke-width="11.0" fill="none"/>
<path d="M457,125 L456.8,126.61 L456.21,128.21 L455.25,129.82 L453.99,131.43 L452.47,133.04 L450.78,134.64 L449,136.25 L447.22,137.86 L445.53,139.46 L444.01,141.07 L442.75,142.68 L441.79,144.29 L441.2,145.89 L441,147.5" stroke="url(#gdark)" stroke-width="11.0" fill="none"/>
<path d="M457,147.5 L456.8,149.11 L456.21,150.71 L455.25,152.32 L453.99,153.93 L452.47,155.54 L450.78,157.14 L449,158.75 L447.22,160.36 L445.53,161.96 L444.01,163.57 L442.75,165.18 L441.79,166.79 L441.2,168.39 L441,170" stroke="url(#glight)" stroke-width="11.0" fill="none"/>
<path d="M457,170 L456.8,171.61 L456.21,173.21 L455.25,174.82 L453.99,176.43 L452.47,178.04 L450.78,179.64 L449,181.25 L447.22,182.86 L445.53,184.46 L444.01,186.07 L442.75,187.68 L441.79,189.29 L441.2,190.89 L441,192.5" stroke="url(#gdark)" stroke-width="11.0" fill="none"/>
<path d="M457,192.5 L456.8,194.11 L456.21,195.71 L455.25,197.32 L453.99,198.93 L452.47,200.54 L450.78,202.14 L449,203.75 L447.22,205.36 L445.53,206.96 L444.01,208.57 L442.75,210.18 L441.79,211.79 L441.2,213.39 L441,215" stroke="url(#gmid)" stroke-width="11.0" fill="none"/>
<path d="M457,215 L456.8,216.61 L456.21,218.21 L455.25,219.82 L453.99,221.43 L452.47,223.04 L450.78,224.64 L449,226.25 L447.22,227.86 L445.53,229.46 L444.01,231.07 L442.75,232.68 L441.79,234.29 L441.2,235.89 L441,237.5" stroke="url(#gdark)" stroke-width="11.0" fill="none"/>
<path d="M449,41h7M451.5,38.5v3.5" stroke="#f6f6ee" stroke-width="1" fill="none" opacity="0.85"/>
<path d="M450,52.25h7M452.5,49.75v3.5" stroke="#f6f6ee" stroke-width="1" fill="none" opacity="0.85"/>
<path d="M449,63.5h7M451.5,61v3.5" stroke="#f6f6ee" stroke-width="1" fill="none" opacity="0.85"/>
<path d="M450,74.75h7M452.5,72.25v3.5" stroke="#f6f6ee" stroke-width="1" fill="none" opacity="0.85"/>
<path d="M449,86h7M451.5,83.5v3.5" stroke="#f6f6ee" stroke-width="1" fill="none" opacity="0.85"/>
<path d="M450,97.25h7M452.5,94.75v3.5" stroke="#f6f6ee" stroke-width="1" fill="none" opacity="0.85"/>
<path d="M449,108.5h7M451.5,106v3.5" stroke="#f6f6ee" stroke-width="1" fill="none" opacity="0.85"/>
<path d="M450,119.75h7M452.5,117.25v3.5" stroke="#f6f6ee" stroke-width="1" fill="none" opacity="0.85"/>
<path d="M449,131h7M451.5,128.5v3.5" stroke="#f6f6ee" stroke-width="1" fill="none" opacity="0.85"/>
<path d="M450,142.25h7M452.5,139.75v3.5" stroke="#f6f6ee" stroke-width="1" fill="none" opacity="0.85"/>
<path d="M449,153.5h7M451.5,151v3.5" stroke="#f6f6ee" stroke-width="1" fill="none" opacity="0.85"/>
<path d="M450,164.75h7M452.5,162.25v3.5" stroke="#f6f6ee" stroke-width="1" fill="none" opacity="0.85"/>
<path d="M449,176h7M451.5,173.5v3.5" stroke="#f6f6ee" stroke-width="1" fill="none" opacity="0.85"/>
<path d="M450,187.25h7M452.5,184.75v3.5" stroke="#f6f6ee" stroke-width="1" fill="none" opacity="0.85"/>
<path d="M449,198.5h7M451.5,196v3.5" stroke="#f6f6ee" stroke-width="1" fill="none" opacity="0.85"/>
</g><use href="#blob" x="390" y="54.5"/><use href="#blob" x="469" y="12.5"/><use href="#blob" x="389.5" y="138"/><use href="#blob" x="447" y="122"/><path d="M442.4,74.9C442.83,77.08 443.83,84.35 445,88C446.17,91.65 448.23,94.32 449.4,96.8C450.57,99.28 451.57,101.88 452,102.9" stroke="#cf3a2c" stroke-width="3.5" fill="none" stroke-linecap="round" stroke-linejoin="round"/><path d="M453.8,71.4C454.08,73.88 455.07,81.2 455.5,86.3C455.93,91.4 456.25,99.38 456.4,102" stroke="#cf3a2c" stroke-width="3.5" fill="none" stroke-linecap="round" stroke-linejoin="round"/><path d="M452.9,142.3C452.6,143.75 452.27,148.08 451.1,151C449.93,153.92 447.07,156 445.9,159.8C444.73,163.6 444.4,171.47 444.1,173.8" stroke="#cf3a2c" stroke-width="3.5" fill="none" stroke-linecap="round" stroke-linejoin="round"/><path d="M457.3,142.3C457.58,143.75 458.87,147.78 459,151C459.13,154.22 458.38,158.38 458.1,161.6C457.82,164.82 457.43,168.85 457.3,170.3" stroke="#cf3a2c" stroke-width="3.5" fill="none" stroke-linecap="round" stroke-linejoin="round"/><path d="M442.4,105.5C444.15,111.48 451.15,135.42 452.9,141.4" stroke="#e09a38" stroke-width="3.0" fill="none" stroke-linecap="round" stroke-linejoin="round"/><path d="M452,102.9C450.4,109.47 444,135.73 442.4,142.3" stroke="#e09a38" stroke-width="3.0" fill="none" stroke-linecap="round" stroke-linejoin="round"/><path d="M456.4,102.9C458.45,109.62 466.65,136.48 468.7,143.2" stroke="#e09a38" stroke-width="3.0" fill="none" stroke-linecap="round" stroke-linejoin="round"/><path d="M466.9,103.8C464.57,109.92 455.23,134.38 452.9,140.5" stroke="#e09a38" stroke-width="3.0" fill="none" stroke-linecap="round" stroke-linejoin="round"/><path d="M420.5,88.1C423.13,88.23 433.08,87.75 436.3,88.9C439.52,90.05 438.78,92.23 439.8,95C440.82,97.77 441.97,103.75 442.4,105.5" stroke="#dde04e" stroke-width="3.5" fill="none" stroke-linecap="round" stroke-linejoin="round"/><path d="M442.4,142.3C441.97,143.75 441.12,148.95 439.8,151C438.48,153.05 436.55,153.43 434.5,154.6C432.45,155.77 429.4,156.55 427.5,158C425.6,159.45 424.37,161.23 423.1,163.3C421.83,165.37 420.43,169.22 419.9,170.4" stroke="#dde04e" stroke-width="3.5" fill="none" stroke-linecap="round" stroke-linejoin="round"/><path d="M466.9,103.8C467.83,100.88 470.4,91.27 472.5,86.3C474.6,81.33 476.72,78.38 479.5,74C482.28,69.62 486.2,64.12 489.2,60C492.2,55.88 496.12,51.08 497.5,49.3" stroke="#dde04e" stroke-width="3.5" fill="none" stroke-linecap="round" stroke-linejoin="round"/><path d="M468.7,143.2C469.33,143.05 471.13,141.58 472.5,142.3C473.87,143.02 475.88,145.32 476.9,147.5C477.92,149.68 478.32,154.08 478.6,155.4" stroke="#dde04e" stroke-width="3.5" fill="none" stroke-linecap="round" stroke-linejoin="round"/>
<clipPath id="dc4"><rect x="594.7" y="36.5" width="40" height="170.8"/></clipPath><g clip-path="url(#dc4)">
<rect x="607.7" y="39.5" width="14" height="164.8" fill="#2e7b3a"/>
<path d="M606.7,14 L606.9,15.61 L607.49,17.21 L608.45,18.82 L609.71,20.43 L611.23,22.04 L612.92,23.64 L614.7,25.25 L616.48,26.86 L618.17,28.46 L619.69,30.07 L620.95,31.68 L621.91,33.29 L622.5,34.89 L622.7,36.5" stroke="url(#gback2)" stroke-width="11.0" fill="none"/>
<path d="M606.7,36.5 L606.9,38.11 L607.49,39.71 L608.45,41.32 L609.71,42.93 L611.23,44.54 L612.92,46.14 L614.7,47.75 L616.48,49.36 L618.17,50.96 L619.69,52.57 L620.95,54.18 L621.91,55.79 L622.5,57.39 L622.7,59" stroke="url(#gback)" stroke-width="11.0" fill="none"/>
<path d="M606.7,59 L606.9,60.61 L607.49,62.21 L608.45,63.82 L609.71,65.43 L611.23,67.04 L612.92,68.64 L614.7,70.25 L616.48,71.86 L618.17,73.46 L619.69,75.07 L620.95,76.68 L621.91,78.29 L622.5,79.89 L622.7,81.5" stroke="url(#gback2)" stroke-width="11.0" fill="none"/>
<path d="M606.7,81.5 L606.9,83.11 L607.49,84.71 L608.45,86.32 L609.71,87.93 L611.23,89.54 L612.92,91.14 L614.7,92.75 L616.48,94.36 L618.17,95.96 L619.69,97.57 L620.95,99.18 L621.91,100.79 L622.5,102.39 L622.7,104" stroke="url(#gback)" stroke-width="11.0" fill="none"/>
<path d="M606.7,104 L606.9,105.61 L607.49,107.21 L608.45,108.82 L609.71,110.43 L611.23,112.04 L612.92,113.64 L614.7,115.25 L616.48,116.86 L618.17,118.46 L619.69,120.07 L620.95,121.68 L621.91,123.29 L622.5,124.89 L622.7,126.5" stroke="url(#gback2)" stroke-width="11.0" fill="none"/>
<path d="M606.7,126.5 L606.9,128.11 L607.49,129.71 L608.45,131.32 L609.71,132.93 L611.23,134.54 L612.92,136.14 L614.7,137.75 L616.48,139.36 L618.17,140.96 L619.69,142.57 L620.95,144.18 L621.91,145.79 L622.5,147.39 L622.7,149" stroke="url(#gback)" stroke-width="11.0" fill="none"/>
<path d="M606.7,149 L606.9,150.61 L607.49,152.21 L608.45,153.82 L609.71,155.43 L611.23,157.04 L612.92,158.64 L614.7,160.25 L616.48,161.86 L618.17,163.46 L619.69,165.07 L620.95,166.68 L621.91,168.29 L622.5,169.89 L622.7,171.5" stroke="url(#gback2)" stroke-width="11.0" fill="none"/>
<path d="M606.7,171.5 L606.9,173.11 L607.49,174.71 L608.45,176.32 L609.71,177.93 L611.23,179.54 L612.92,181.14 L614.7,182.75 L616.48,184.36 L618.17,185.96 L619.69,187.57 L620.95,189.18 L621.91,190.79 L622.5,192.39 L622.7,194" stroke="url(#gback)" stroke-width="11.0" fill="none"/>
<path d="M606.7,194 L606.9,195.61 L607.49,197.21 L608.45,198.82 L609.71,200.43 L611.23,202.04 L612.92,203.64 L614.7,205.25 L616.48,206.86 L618.17,208.46 L619.69,210.07 L620.95,211.68 L621.91,213.29 L622.5,214.89 L622.7,216.5" stroke="url(#gback2)" stroke-width="11.0" fill="none"/>
<path d="M606.7,216.5 L606.9,218.11 L607.49,219.71 L608.45,221.32 L609.71,222.93 L611.23,224.54 L612.92,226.14 L614.7,227.75 L616.48,229.36 L618.17,230.96 L619.69,232.57 L620.95,234.18 L621.91,235.79 L622.5,237.39 L622.7,239" stroke="url(#gback)" stroke-width="11.0" fill="none"/>
<path d="M622.7,14 L622.5,15.61 L621.91,17.21 L620.95,18.82 L619.69,20.43 L618.17,22.04 L616.48,23.64 L614.7,25.25 L612.92,26.86 L611.23,28.46 L609.71,30.07 L608.45,31.68 L607.49,33.29 L606.9,34.89 L606.7,36.5" stroke="url(#gdark)" stroke-width="11.0" fill="none"/>
<path d="M622.7,36.5 L622.5,38.11 L621.91,39.71 L620.95,41.32 L619.69,42.93 L618.17,44.54 L616.48,46.14 L614.7,47.75 L612.92,49.36 L611.23,50.96 L609.71,52.57 L608.45,54.18 L607.49,55.79 L606.9,57.39 L606.7,59" stroke="url(#gdark)" stroke-width="11.0" fill="none"/>
<path d="M622.7,59 L622.5,60.61 L621.91,62.21 L620.95,63.82 L619.69,65.43 L618.17,67.04 L616.48,68.64 L614.7,70.25 L612.92,71.86 L611.23,73.46 L609.71,75.07 L608.45,76.68 L607.49,78.29 L606.9,79.89 L606.7,81.5" stroke="url(#glight)" stroke-width="11.0" fill="none"/>
<path d="M622.7,81.5 L622.5,83.11 L621.91,84.71 L620.95,86.32 L619.69,87.93 L618.17,89.54 L616.48,91.14 L614.7,92.75 L612.92,94.36 L611.23,95.96 L609.71,97.57 L608.45,99.18 L607.49,100.79 L606.9,102.39 L606.7,104" stroke="url(#gdark)" stroke-width="11.0" fill="none"/>
<path d="M622.7,104 L622.5,105.61 L621.91,107.21 L620.95,108.82 L619.69,110.43 L618.17,112.04 L616.48,113.64 L614.7,115.25 L612.92,116.86 L611.23,118.46 L609.71,120.07 L608.45,121.68 L607.49,123.29 L606.9,124.89 L606.7,126.5" stroke="url(#gmid)" stroke-width="11.0" fill="none"/>
<path d="M622.7,126.5 L622.5,128.11 L621.91,129.71 L620.95,131.32 L619.69,132.93 L618.17,134.54 L616.48,136.14 L614.7,137.75 L612.92,139.36 L611.23,140.96 L609.71,142.57 L608.45,144.18 L607.49,145.79 L606.9,147.39 L606.7,149" stroke="url(#gdark)" stroke-width="11.0" fill="none"/>
<path d="M622.7,149 L622.5,150.61 L621.91,152.21 L620.95,153.82 L619.69,155.43 L618.17,157.04 L616.48,158.64 L614.7,160.25 L612.92,161.86 L611.23,163.46 L609.71,165.07 L608.45,166.68 L607.49,168.29 L606.9,169.89 L606.7,171.5" stroke="url(#glight)" stroke-width="11.0" fill="none"/>
<path d="M622.7,171.5 L622.5,173.11 L621.91,174.71 L620.95,176.32 L619.69,177.93 L618.17,179.54 L616.48,181.14 L614.7,182.75 L612.92,184.36 L611.23,185.96 L609.71,187.57 L608.45,189.18 L607.49,190.79 L606.9,192.39 L606.7,194" stroke="url(#gdark)" stroke-width="11.0" fill="none"/>
<path d="M622.7,194 L622.5,195.61 L621.91,197.21 L620.95,198.82 L619.69,200.43 L618.17,202.04 L616.48,203.64 L614.7,205.25 L612.92,206.86 L611.23,208.46 L609.71,210.07 L608.45,211.68 L607.49,213.29 L606.9,214.89 L606.7,216.5" stroke="url(#gmid)" stroke-width="11.0" fill="none"/>
<path d="M622.7,216.5 L622.5,218.11 L621.91,219.71 L620.95,221.32 L619.69,222.93 L618.17,224.54 L616.48,226.14 L614.7,227.75 L612.92,229.36 L611.23,230.96 L609.71,232.57 L608.45,234.18 L607.49,235.79 L606.9,237.39 L606.7,239" stroke="url(#gdark)" stroke-width="11.0" fill="none"/>
<path d="M614.7,42.5h7M617.2,40v3.5" stroke="#f6f6ee" stroke-width="1" fill="none" opacity="0.85"/>
<path d="M615.7,53.75h7M618.2,51.25v3.5" stroke="#f6f6ee" stroke-width="1" fill="none" opacity="0.85"/>
<path d="M614.7,65h7M617.2,62.5v3.5" stroke="#f6f6ee" stroke-width="1" fill="none" opacity="0.85"/>
<path d="M615.7,76.25h7M618.2,73.75v3.5" stroke="#f6f6ee" stroke-width="1" fill="none" opacity="0.85"/>
<path d="M614.7,87.5h7M617.2,85v3.5" stroke="#f6f6ee" stroke-width="1" fill="none" opacity="0.85"/>
<path d="M615.7,98.75h7M618.2,96.25v3.5" stroke="#f6f6ee" stroke-width="1" fill="none" opacity="0.85"/>
<path d="M614.7,110h7M617.2,107.5v3.5" stroke="#f6f6ee" stroke-width="1" fill="none" opacity="0.85"/>
<path d="M615.7,121.25h7M618.2,118.75v3.5" stroke="#f6f6ee" stroke-width="1" fill="none" opacity="0.85"/>
<path d="M614.7,132.5h7M617.2,130v3.5" stroke="#f6f6ee" stroke-width="1" fill="none" opacity="0.85"/>
<path d="M615.7,143.75h7M618.2,141.25v3.5" stroke="#f6f6ee" stroke-width="1" fill="none" opacity="0.85"/>
<path d="M614.7,155h7M617.2,152.5v3.5" stroke="#f6f6ee" stroke-width="1" fill="none" opacity="0.85"/>
<path d="M615.7,166.25h7M618.2,163.75v3.5" stroke="#f6f6ee" stroke-width="1" fill="none" opacity="0.85"/>
<path d="M614.7,177.5h7M617.2,175v3.5" stroke="#f6f6ee" stroke-width="1" fill="none" opacity="0.85"/>
<path d="M615.7,188.75h7M618.2,186.25v3.5" stroke="#f6f6ee" stroke-width="1" fill="none" opacity="0.85"/>
<path d="M614.7,200h7M617.2,197.5v3.5" stroke="#f6f6ee" stroke-width="1" fill="none" opacity="0.85"/>
</g><use href="#blob" x="556" y="55"/><use href="#blob" x="554" y="137.5"/><use href="#blob" x="616" y="39.5"/><use href="#blob" x="609" y="123"/><path d="M608,73.1C608.58,75.58 610.03,83.33 611.5,88C612.97,92.67 615.92,98.92 616.8,101.1" stroke="#cf3a2c" stroke-width="3.5" fill="none" stroke-linecap="round" stroke-linejoin="round"/><path d="M619.4,69.6C619.7,72.38 620.77,81.05 621.2,86.3C621.63,91.55 621.87,98.63 622,101.1" stroke="#cf3a2c" stroke-width="3.5" fill="none" stroke-linecap="round" stroke-linejoin="round"/><path d="M619.4,140.5C618.97,142.25 618.12,147.78 616.8,151C615.48,154.22 612.67,156.3 611.5,159.8C610.33,163.3 610.08,169.97 609.8,172" stroke="#cf3a2c" stroke-width="3.5" fill="none" stroke-linecap="round" stroke-linejoin="round"/><path d="M622.9,140.5C623.18,142.55 624.6,148.42 624.6,152.8C624.6,157.18 623.18,164.47 622.9,166.8" stroke="#cf3a2c" stroke-width="3.5" fill="none" stroke-linecap="round" stroke-linejoin="round"/><path d="M607.1,104.6C609.45,110.3 618.85,133.1 621.2,138.8" stroke="#e09a38" stroke-width="3.0" fill="none" stroke-linecap="round" stroke-linejoin="round"/><path d="M617.6,102.9C616,109.17 609.6,134.23 608,140.5" stroke="#e09a38" stroke-width="3.0" fill="none" stroke-linecap="round" stroke-linejoin="round"/><path d="M622.9,102C624.65,108.42 631.65,134.08 633.4,140.5" stroke="#e09a38" stroke-width="3.0" fill="none" stroke-linecap="round" stroke-linejoin="round"/><path d="M632.5,101.1C630.62,107.38 623.08,132.52 621.2,138.8" stroke="#e09a38" stroke-width="3.0" fill="none" stroke-linecap="round" stroke-linejoin="round"/><path d="M586.1,87.1C588.43,87.25 597.18,86.68 600.1,88C603.02,89.32 602.43,92.23 603.6,95C604.77,97.77 606.52,103 607.1,104.6" stroke="#dde04e" stroke-width="3.5" fill="none" stroke-linecap="round" stroke-linejoin="round"/><path d="M632.5,101.1C633.38,99.22 636.33,93.15 637.8,89.8C639.27,86.45 640.28,83.63 641.3,81C642.32,78.37 643.47,75.17 643.9,74" stroke="#dde04e" stroke-width="3.5" fill="none" stroke-linecap="round" stroke-linejoin="round"/><path d="M633.4,140.5C634.42,141.08 637.75,142.53 639.5,144C641.25,145.47 643.02,147.4 643.9,149.3C644.78,151.2 644.65,154.38 644.8,155.4" stroke="#dde04e" stroke-width="3.5" fill="none" stroke-linecap="round" stroke-linejoin="round"/><path d="M608,140.5C607.72,141.38 607.17,144.33 606.3,145.8C605.43,147.27 604.55,148.13 602.8,149.3C601.05,150.47 597.85,151.48 595.8,152.8C593.75,154.12 591.97,154.58 590.5,157.2C589.03,159.82 587.58,166.62 587,168.5" stroke="#dde04e" stroke-width="3.5" fill="none" stroke-linecap="round" stroke-linejoin="round"/>
<text x="6.74" y="259.2" font-size="27.5" font-weight="bold" fill="#1a1a1a" textLength="20.46" lengthAdjust="spacingAndGlyphs">B</text>
<rect x="67.4" y="271.8" width="175.7" height="114.8" fill="none" stroke="#1e1e1e" stroke-width="1.3"/>
<path d="M102.54,386.6v-4M102.54,271.8v4" stroke="#1e1e1e" stroke-width="1"/><path d="M137.68,386.6v-4M137.68,271.8v4" stroke="#1e1e1e" stroke-width="1"/><path d="M172.82,386.6v-4M172.82,271.8v4" stroke="#1e1e1e" stroke-width="1"/><path d="M207.96,386.6v-4M207.96,271.8v4" stroke="#1e1e1e" stroke-width="1"/>
<path d="M67.4,352.04h4M243.1,352.04h-4" stroke="#1e1e1e" stroke-width="1"/><path d="M67.4,331.83h4M243.1,331.83h-4" stroke="#1e1e1e" stroke-width="1"/><path d="M67.4,317.48h4M243.1,317.48h-4" stroke="#1e1e1e" stroke-width="1"/><path d="M67.4,306.36h4M243.1,306.36h-4" stroke="#1e1e1e" stroke-width="1"/><path d="M67.4,297.27h4M243.1,297.27h-4" stroke="#1e1e1e" stroke-width="1"/><path d="M67.4,289.58h4M243.1,289.58h-4" stroke="#1e1e1e" stroke-width="1"/><path d="M67.4,282.93h4M243.1,282.93h-4" stroke="#1e1e1e" stroke-width="1"/><path d="M67.4,277.05h4M243.1,277.05h-4" stroke="#1e1e1e" stroke-width="1"/>
<path d="M67.4,271.8L243.1,335.2" stroke="#d03a30" stroke-width="1.4" clip-path="url(#c1)"/>
<path d="M67.4,271.8L243.1,366.8" stroke="#3355a8" stroke-width="1.4" clip-path="url(#c1)"/>
<g fill="#d03a30"><circle cx="69.7" cy="272.9" r="1.15"/><circle cx="71.9" cy="273.9" r="1.15"/><circle cx="75.2" cy="275" r="1.15"/><circle cx="82.4" cy="275.9" r="1.15"/><circle cx="85.4" cy="276.6" r="1.15"/><circle cx="87" cy="277.6" r="1.15"/><circle cx="89.7" cy="278.9" r="1.15"/><circle cx="92.3" cy="281.6" r="1.15"/><circle cx="93.6" cy="282.9" r="1.15"/><circle cx="95.2" cy="284.7" r="1.15"/><circle cx="96.9" cy="285.8" r="1.15"/><circle cx="98.8" cy="287.1" r="1.15"/><circle cx="106.1" cy="289.7" r="1.15"/><circle cx="112.6" cy="290.8" r="1.15"/><circle cx="115.7" cy="292.1" r="1.15"/><circle cx="126.7" cy="293.7" r="1.15"/><circle cx="136.7" cy="295.6" r="1.15"/><circle cx="149.4" cy="298.6" r="1.15"/><circle cx="150" cy="298.9" r="1.15"/><circle cx="156.1" cy="300.5" r="1.15"/><circle cx="160.4" cy="302.1" r="1.15"/><circle cx="162.5" cy="304.2" r="1.15"/><circle cx="172.5" cy="306.1" r="1.15"/><circle cx="177.6" cy="308.2" r="1.15"/><circle cx="186.9" cy="310.1" r="1.15"/><circle cx="191.4" cy="312.5" r="1.15"/><circle cx="194.1" cy="314.6" r="1.15"/><circle cx="210.7" cy="317.3" r="1.15"/><circle cx="210.7" cy="319.4" r="1.15"/><circle cx="213.9" cy="323" r="1.15"/><circle cx="215" cy="325.4" r="1.15"/><circle cx="231" cy="328.6" r="1.15"/><circle cx="195.2" cy="367.6" r="1.15"/></g>
<g fill="#3355a8"><circle cx="69.3" cy="272.9" r="1.15"/><circle cx="71.3" cy="273.9" r="1.15"/><circle cx="73.6" cy="275.9" r="1.15"/><circle cx="74.5" cy="277.2" r="1.15"/><circle cx="77.8" cy="278.5" r="1.15"/><circle cx="81.1" cy="280.5" r="1.15"/><circle cx="82.4" cy="282.1" r="1.15"/><circle cx="85.7" cy="283.8" r="1.15"/><circle cx="86.4" cy="285.8" r="1.15"/><circle cx="87.3" cy="287.7" r="1.15"/><circle cx="88.3" cy="289.7" r="1.15"/><circle cx="89" cy="291" r="1.15"/><circle cx="100.8" cy="292.3" r="1.15"/><circle cx="101.7" cy="294.3" r="1.15"/><circle cx="103.4" cy="296.9" r="1.15"/><circle cx="117.2" cy="298.9" r="1.15"/><circle cx="121.2" cy="300.9" r="1.15"/><circle cx="125.8" cy="302.8" r="1.15"/><circle cx="131" cy="305.5" r="1.15"/><circle cx="137" cy="309.4" r="1.15"/><circle cx="148.8" cy="312" r="1.15"/><circle cx="149" cy="314" r="1.15"/><circle cx="150" cy="314.1" r="1.15"/><circle cx="156.4" cy="317" r="1.15"/><circle cx="157.7" cy="319.4" r="1.15"/><circle cx="181.3" cy="322.5" r="1.15"/><circle cx="185" cy="325.4" r="1.15"/><circle cx="187.2" cy="328.9" r="1.15"/><circle cx="196.9" cy="331.8" r="1.15"/><circle cx="198.1" cy="335.8" r="1.15"/><circle cx="201.8" cy="339.8" r="1.15"/><circle cx="211" cy="344.1" r="1.15"/><circle cx="225.4" cy="348.6" r="1.15"/><circle cx="195.7" cy="379.1" r="1.15"/></g>
<rect x="285.7" y="273.3" width="167.6" height="114.4" fill="none" stroke="#1e1e1e" stroke-width="1.3"/>
<path d="M319.22,387.7v-4M319.22,273.3v4" stroke="#1e1e1e" stroke-width="1"/><path d="M352.74,387.7v-4M352.74,273.3v4" stroke="#1e1e1e" stroke-width="1"/><path d="M386.26,387.7v-4M386.26,273.3v4" stroke="#1e1e1e" stroke-width="1"/><path d="M419.78,387.7v-4M419.78,273.3v4" stroke="#1e1e1e" stroke-width="1"/>
<path d="M285.7,370.48h3M453.3,370.48h-3" stroke="#1e1e1e" stroke-width="1"/><path d="M285.7,360.41h3M453.3,360.41h-3" stroke="#1e1e1e" stroke-width="1"/><path d="M285.7,353.26h3M453.3,353.26h-3" stroke="#1e1e1e" stroke-width="1"/><path d="M285.7,347.72h3M453.3,347.72h-3" stroke="#1e1e1e" stroke-width="1"/><path d="M285.7,343.19h3M453.3,343.19h-3" stroke="#1e1e1e" stroke-width="1"/><path d="M285.7,339.36h3M453.3,339.36h-3" stroke="#1e1e1e" stroke-width="1"/><path d="M285.7,336.04h3M453.3,336.04h-3" stroke="#1e1e1e" stroke-width="1"/><path d="M285.7,333.12h3M453.3,333.12h-3" stroke="#1e1e1e" stroke-width="1"/><path d="M285.7,330.5h3M453.3,330.5h-3" stroke="#1e1e1e" stroke-width="1"/><path d="M285.7,313.28h3M453.3,313.28h-3" stroke="#1e1e1e" stroke-width="1"/><path d="M285.7,303.21h3M453.3,303.21h-3" stroke="#1e1e1e" stroke-width="1"/><path d="M285.7,296.06h3M453.3,296.06h-3" stroke="#1e1e1e" stroke-width="1"/><path d="M285.7,290.52h3M453.3,290.52h-3" stroke="#1e1e1e" stroke-width="1"/><path d="M285.7,285.99h3M453.3,285.99h-3" stroke="#1e1e1e" stroke-width="1"/><path d="M285.7,282.16h3M453.3,282.16h-3" stroke="#1e1e1e" stroke-width="1"/><path d="M285.7,278.84h3M453.3,278.84h-3" stroke="#1e1e1e" stroke-width="1"/><path d="M285.7,275.92h3M453.3,275.92h-3" stroke="#1e1e1e" stroke-width="1"/>
<path d="M285.7,273.3L453.3,345.9" stroke="#d03a30" stroke-width="1.4" clip-path="url(#c2)"/>
<path d="M285.7,273.3L453.3,356.8" stroke="#3355a8" stroke-width="1.4" clip-path="url(#c2)"/>
<g fill="#d03a30"><circle cx="294.5" cy="275.9" r="1.15"/><circle cx="296.5" cy="276.6" r="1.15"/><circle cx="298.5" cy="277.6" r="1.15"/><circle cx="299.8" cy="279.2" r="1.15"/><circle cx="301.1" cy="280.8" r="1.15"/><circle cx="308.3" cy="283.1" r="1.15"/><circle cx="311.6" cy="284.2" r="1.15"/><circle cx="314.9" cy="285.8" r="1.15"/><circle cx="316.2" cy="286.8" r="1.15"/><circle cx="322.1" cy="287.7" r="1.15"/><circle cx="327.4" cy="290.4" r="1.15"/><circle cx="329.3" cy="292.3" r="1.15"/><circle cx="331.3" cy="294.3" r="1.15"/><circle cx="335.2" cy="298.2" r="1.15"/><circle cx="340.5" cy="301.3" r="1.15"/><circle cx="351" cy="303.5" r="1.15"/><circle cx="355.6" cy="308.8" r="1.15"/><circle cx="368.1" cy="310.7" r="1.15"/><circle cx="368.6" cy="311" r="1.15"/><circle cx="392.2" cy="313.4" r="1.15"/><circle cx="398.8" cy="315.6" r="1.15"/><circle cx="398.8" cy="317.6" r="1.15"/><circle cx="412" cy="318.6" r="1.15"/><circle cx="429.7" cy="321.9" r="1.15"/><circle cx="437.8" cy="325.7" r="1.15"/><circle cx="438.9" cy="330.7" r="1.15"/><circle cx="442.2" cy="336" r="1.15"/><circle cx="448.7" cy="343.2" r="1.15"/></g>
<g fill="#3355a8"><circle cx="287.9" cy="274.6" r="1.15"/><circle cx="290.6" cy="276.3" r="1.15"/><circle cx="293.2" cy="277.2" r="1.15"/><circle cx="295.8" cy="279.9" r="1.15"/><circle cx="297.1" cy="282.5" r="1.15"/><circle cx="297.8" cy="284.2" r="1.15"/><circle cx="302.4" cy="285.5" r="1.15"/><circle cx="303.7" cy="286.8" r="1.15"/><circle cx="307" cy="288.4" r="1.15"/><circle cx="318.2" cy="289.7" r="1.15"/><circle cx="319.5" cy="291.7" r="1.15"/><circle cx="321.4" cy="292.6" r="1.15"/><circle cx="326" cy="293.7" r="1.15"/><circle cx="330.6" cy="295.6" r="1.15"/><circle cx="332.6" cy="297.3" r="1.15"/><circle cx="335.9" cy="299.6" r="1.15"/><circle cx="340.5" cy="301.5" r="1.15"/><circle cx="351.7" cy="301.5" r="1.15"/><circle cx="354.3" cy="302.8" r="1.15"/><circle cx="364.1" cy="305.2" r="1.15"/><circle cx="377.8" cy="307.1" r="1.15"/><circle cx="389.6" cy="309.4" r="1.15"/><circle cx="393.2" cy="312.1" r="1.15"/><circle cx="394.9" cy="314.3" r="1.15"/><circle cx="398.8" cy="316.9" r="1.15"/><circle cx="419.2" cy="320.6" r="1.15"/><circle cx="425.5" cy="324.6" r="1.15"/><circle cx="426.4" cy="329" r="1.15"/><circle cx="440.2" cy="334.7" r="1.15"/><circle cx="445.5" cy="341.6" r="1.15"/></g>
<rect x="487.2" y="274.1" width="186.7" height="113.8" fill="none" stroke="#1e1e1e" stroke-width="1.3"/>
<path d="M524.54,387.9v-4M524.54,274.1v4" stroke="#1e1e1e" stroke-width="1"/><path d="M561.88,387.9v-4M561.88,274.1v4" stroke="#1e1e1e" stroke-width="1"/><path d="M599.22,387.9v-4M599.22,274.1v4" stroke="#1e1e1e" stroke-width="1"/><path d="M636.56,387.9v-4M636.56,274.1v4" stroke="#1e1e1e" stroke-width="1"/>
<path d="M487.2,345.3h4M673.9,345.3h-4" stroke="#1e1e1e" stroke-width="1"/><path d="M487.2,307.72h4M673.9,307.72h-4" stroke="#1e1e1e" stroke-width="1"/>
<path d="M487.2,274.1L673.9,328.3" stroke="#d03a30" stroke-width="1.4" clip-path="url(#c3)"/>
<path d="M487.2,274.1L613.5,387.9" stroke="#3355a8" stroke-width="1.4" clip-path="url(#c3)"/>
<g fill="#d03a30"><circle cx="497.7" cy="280.6" r="1.15"/><circle cx="506.3" cy="287.1" r="1.15"/><circle cx="579.8" cy="293.9" r="1.15"/><circle cx="592.4" cy="300.7" r="1.15"/><circle cx="607" cy="308.1" r="1.15"/><circle cx="608.4" cy="315" r="1.15"/><circle cx="643.1" cy="322.3" r="1.15"/></g>
<g fill="#3355a8"><circle cx="494.6" cy="288.4" r="1.15"/><circle cx="495" cy="295.8" r="1.15"/><circle cx="521.8" cy="303.3" r="1.15"/><circle cx="529" cy="310.7" r="1.15"/><circle cx="531.1" cy="318.8" r="1.15"/><circle cx="531.6" cy="326.7" r="1.15"/><circle cx="541.9" cy="335.2" r="1.15"/><circle cx="543.7" cy="343.8" r="1.15"/><circle cx="564" cy="352.4" r="1.15"/><circle cx="578.9" cy="361.3" r="1.15"/><circle cx="595.8" cy="370.5" r="1.15"/><circle cx="648" cy="380.1" r="1.15"/></g>
<text x="126.71" y="259.2" font-size="16" font-weight="normal" fill="#3a3a3a" textLength="14.1" lengthAdjust="spacingAndGlyphs">(i)</text>
<path d="M145.2,254.3H159.2" stroke="#3a3a3a" stroke-width="1.3" fill="none"/><path d="M154.7,250.3L159.7,254.3L154.7,258.3" stroke="#3a3a3a" stroke-width="1.3" fill="none"/>
<text x="163.86" y="259.2" font-size="16" font-weight="normal" fill="#3a3a3a" textLength="18.54" lengthAdjust="spacingAndGlyphs">(ii)</text>
<text x="336.58" y="259" font-size="16" font-weight="normal" fill="#3a3a3a" textLength="18.1" lengthAdjust="spacingAndGlyphs">(ii)</text>
<path d="M359.2,254H373.3" stroke="#3a3a3a" stroke-width="1.3" fill="none"/><path d="M368.8,250L373.8,254L368.8,258" stroke="#3a3a3a" stroke-width="1.3" fill="none"/>
<text x="377.92" y="259" font-size="16" font-weight="normal" fill="#3a3a3a" textLength="23.01" lengthAdjust="spacingAndGlyphs">(iii)</text>
<text x="546.84" y="259" font-size="16" font-weight="normal" fill="#3a3a3a" textLength="22.56" lengthAdjust="spacingAndGlyphs">(iii)</text>
<path d="M573.3,254H587.4" stroke="#3a3a3a" stroke-width="1.3" fill="none"/><path d="M582.9,250L587.9,254L582.9,258" stroke="#3a3a3a" stroke-width="1.3" fill="none"/>
<text x="592.05" y="259" font-size="16" font-weight="normal" fill="#3a3a3a" textLength="23.44" lengthAdjust="spacingAndGlyphs">(iv)</text>
<text x="40.9" y="277.6" font-size="16" font-weight="normal" fill="#111" textLength="24.37" lengthAdjust="spacingAndGlyphs">1.0</text>
<text x="39.55" y="313.3" font-size="16" font-weight="normal" fill="#111" textLength="25.53" lengthAdjust="spacingAndGlyphs">0.5</text>
<text x="39.77" y="392.5" font-size="16" font-weight="normal" fill="#111" textLength="25.14" lengthAdjust="spacingAndGlyphs">0.1</text>
<text x="248.81" y="279.4" font-size="16" font-weight="normal" fill="#111" textLength="33.94" lengthAdjust="spacingAndGlyphs">1.00</text>
<text x="247.97" y="336.8" font-size="16" font-weight="normal" fill="#111" textLength="35.19" lengthAdjust="spacingAndGlyphs">0.10</text>
<text x="248.01" y="392.8" font-size="16" font-weight="normal" fill="#111" textLength="33.83" lengthAdjust="spacingAndGlyphs">0.01</text>
<text x="460.59" y="280.8" font-size="16" font-weight="normal" fill="#111" textLength="24.69" lengthAdjust="spacingAndGlyphs">1.0</text>
<text x="459.06" y="314" font-size="16" font-weight="normal" fill="#111" textLength="27.48" lengthAdjust="spacingAndGlyphs">0.9</text>
<text x="459.12" y="351.2" font-size="16" font-weight="normal" fill="#111" textLength="26.17" lengthAdjust="spacingAndGlyphs">0.8</text>
<text x="459.06" y="390.2" font-size="16" font-weight="normal" fill="#111" textLength="27.48" lengthAdjust="spacingAndGlyphs">0.7</text>
<text x="61.11" y="404.4" font-size="16" font-weight="normal" fill="#111" textLength="11.07" lengthAdjust="spacingAndGlyphs">0</text>
<text x="96.25" y="404.4" font-size="16" font-weight="normal" fill="#111" textLength="11.07" lengthAdjust="spacingAndGlyphs">2</text>
<text x="132.63" y="404.4" font-size="16" font-weight="normal" fill="#111" textLength="8.61" lengthAdjust="spacingAndGlyphs">4</text>
<text x="166.53" y="404.4" font-size="16" font-weight="normal" fill="#111" textLength="11.07" lengthAdjust="spacingAndGlyphs">6</text>
<text x="201.67" y="404.4" font-size="16" font-weight="normal" fill="#111" textLength="11.07" lengthAdjust="spacingAndGlyphs">8</text>
<text x="232.11" y="404.4" font-size="16" font-weight="normal" fill="#111" textLength="20.36" lengthAdjust="spacingAndGlyphs">10</text>
<text x="279.41" y="404.4" font-size="16" font-weight="normal" fill="#111" textLength="11.07" lengthAdjust="spacingAndGlyphs">0</text>
<text x="308.23" y="404.4" font-size="16" font-weight="normal" fill="#111" textLength="20.36" lengthAdjust="spacingAndGlyphs">20</text>
<text x="342.89" y="404.4" font-size="16" font-weight="normal" fill="#111" textLength="19.16" lengthAdjust="spacingAndGlyphs">40</text>
<text x="375.27" y="404.4" font-size="16" font-weight="normal" fill="#111" textLength="20.36" lengthAdjust="spacingAndGlyphs">60</text>
<text x="408.79" y="404.4" font-size="16" font-weight="normal" fill="#111" textLength="20.36" lengthAdjust="spacingAndGlyphs">80</text>
<text x="437.07" y="404.4" font-size="16" font-weight="normal" fill="#111" textLength="28.73" lengthAdjust="spacingAndGlyphs">100</text>
<text x="474.1" y="404.4" font-size="16" font-weight="normal" fill="#111" textLength="24.37" lengthAdjust="spacingAndGlyphs">0.0</text>
<text x="511.39" y="404.4" font-size="16" font-weight="normal" fill="#111" textLength="25.59" lengthAdjust="spacingAndGlyphs">0.2</text>
<text x="548.78" y="404.4" font-size="16" font-weight="normal" fill="#111" textLength="24.37" lengthAdjust="spacingAndGlyphs">0.4</text>
<text x="586.12" y="404.4" font-size="16" font-weight="normal" fill="#111" textLength="24.37" lengthAdjust="spacingAndGlyphs">0.6</text>
<text x="623.46" y="404.4" font-size="16" font-weight="normal" fill="#111" textLength="24.37" lengthAdjust="spacingAndGlyphs">0.8</text>
<text x="660.8" y="404.4" font-size="16" font-weight="normal" fill="#111" textLength="24.37" lengthAdjust="spacingAndGlyphs">1.0</text>
<text x="127.3" y="424.3" font-size="15.5" font-weight="normal" fill="#222" textLength="71.3" lengthAdjust="spacingAndGlyphs">time (μs)</text>
<text x="335.3" y="424.5" font-size="15.5" font-weight="normal" fill="#222" textLength="70.79" lengthAdjust="spacingAndGlyphs">time (μs)</text>
<text x="549" y="424.5" font-size="15.5" font-weight="normal" fill="#222" textLength="71" lengthAdjust="spacingAndGlyphs">time (μs)</text>
<text transform="translate(29.9,395.7) rotate(-90)" x="-1.13" y="0" font-size="14" font-weight="normal" fill="#222" textLength="130.02" lengthAdjust="spacingAndGlyphs">survival probability</text>
<text x="6.93" y="452.4" font-size="27.5" font-weight="bold" fill="#1a1a1a" textLength="19.32" lengthAdjust="spacingAndGlyphs">C</text>
<path d="M67.2,454.3V645.4H342.0" fill="none" stroke="#1e1e1e" stroke-width="1.3"/>
<path d="M67.2,645.4h4" stroke="#1e1e1e" stroke-width="1"/>
<text x="50.56" y="651.5" font-size="16" font-weight="normal" fill="#111" textLength="11.07" lengthAdjust="spacingAndGlyphs">2</text>
<path d="M67.2,618.1h4" stroke="#1e1e1e" stroke-width="1"/>
<text x="51.8" y="624.2" font-size="16" font-weight="normal" fill="#111" textLength="8.61" lengthAdjust="spacingAndGlyphs">4</text>
<path d="M67.2,590.8h4" stroke="#1e1e1e" stroke-width="1"/>
<text x="50.56" y="596.9" font-size="16" font-weight="normal" fill="#111" textLength="11.07" lengthAdjust="spacingAndGlyphs">6</text>
<path d="M67.2,563.5h4" stroke="#1e1e1e" stroke-width="1"/>
<text x="50.56" y="569.6" font-size="16" font-weight="normal" fill="#111" textLength="11.07" lengthAdjust="spacingAndGlyphs">8</text>
<path d="M67.2,536.2h4" stroke="#1e1e1e" stroke-width="1"/>
<text x="42.22" y="542.3" font-size="16" font-weight="normal" fill="#111" textLength="19.13" lengthAdjust="spacingAndGlyphs">10</text>
<path d="M67.2,508.9h4" stroke="#1e1e1e" stroke-width="1"/>
<text x="42.22" y="515" font-size="16" font-weight="normal" fill="#111" textLength="19.13" lengthAdjust="spacingAndGlyphs">12</text>
<path d="M67.2,481.6h4" stroke="#1e1e1e" stroke-width="1"/>
<text x="42.29" y="487.7" font-size="16" font-weight="normal" fill="#111" textLength="18.01" lengthAdjust="spacingAndGlyphs">14</text>
<path d="M67.2,454.3h4" stroke="#1e1e1e" stroke-width="1"/>
<text x="42.22" y="460.4" font-size="16" font-weight="normal" fill="#111" textLength="19.13" lengthAdjust="spacingAndGlyphs">16</text>
<path d="M67.2,645.4v-4" stroke="#1e1e1e" stroke-width="1"/>
<text x="61.21" y="663.5" font-size="16" font-weight="normal" fill="#111" textLength="11.07" lengthAdjust="spacingAndGlyphs">0</text>
<path d="M135.9,645.4v-4" stroke="#1e1e1e" stroke-width="1"/>
<text x="126.35" y="663.5" font-size="16" font-weight="normal" fill="#111" textLength="19.16" lengthAdjust="spacingAndGlyphs">40</text>
<path d="M204.6,645.4v-4" stroke="#1e1e1e" stroke-width="1"/>
<text x="193.91" y="663.5" font-size="16" font-weight="normal" fill="#111" textLength="20.36" lengthAdjust="spacingAndGlyphs">80</text>
<path d="M273.3,645.4v-4" stroke="#1e1e1e" stroke-width="1"/>
<text x="258.37" y="663.5" font-size="16" font-weight="normal" fill="#111" textLength="28.73" lengthAdjust="spacingAndGlyphs">120</text>
<path d="M342,645.4v-4" stroke="#1e1e1e" stroke-width="1"/>
<text x="327.07" y="663.5" font-size="16" font-weight="normal" fill="#111" textLength="28.73" lengthAdjust="spacingAndGlyphs">160</text>
<text x="160.65" y="681.3" font-size="15.5" font-weight="normal" fill="#222" textLength="95.47" lengthAdjust="spacingAndGlyphs">distance (Å)</text>
<text transform="translate(29.5,635) rotate(-90)" x="0" y="0" font-size="15.5" font-weight="normal" fill="#222" textLength="175.54" lengthAdjust="spacingAndGlyphs">free energy (kcal/mol)</text>
<path d="M72.7,594.2 L73.8,618.2 L75.5,613.9 L78.1,596.3 L81.4,585.4 L84.7,579.9 L89.1,575.5 L93.5,570.1 L97.8,565.7 L103.3,560.9 L107.7,557.4 L111,554.3 L114.3,555.2 L117.6,553.6 L124.1,554.7 L132.9,556.5 L141.6,559.1 L152.6,563.5 L163.5,566.8 L180,569.8 L201.9,570.9 L223.8,566.5 L236.9,561 L250.1,554.4 L263.2,545.7 L274.2,535.8 L282.2,529.4 L291,523.6 L295,517.7 L297.4,516.6 L299.7,508.4 L301.5,513.6 L303.2,507.2 L305.5,504.3 L307.9,503.7 L309.6,507.8 L312.6,500.2" stroke="#8cc04a" stroke-width="1.8" fill="none" stroke-linejoin="round"/>
<path d="M72.7,602.9 L74.2,633.6 L76.4,629.2 L78.6,602.9 L81.4,596.3 L84.3,586.5 L86.5,589.8 L89.5,576.6 L92.4,581 L95.7,583.2 L98.9,569 L101.1,573.4 L104.4,563.5 L108.8,561.3 L112.1,564.6 L116.5,559.1 L120,556.2 L124.7,555 L129.3,553.9 L135.2,552.7 L137.5,560.2 L139.9,560.9 L143.4,549.2 L145.7,556.2 L149.2,555 L151.5,549.2 L153.9,558.5 L156.2,560.9 L158.5,567.9 L160.9,563.2 L163.2,560.9 L165.5,566.7 L167.9,562 L170.2,565.6 L172.6,564.4 L174.9,566.7 L177.2,565.6 L179.6,567.9 L181.9,565.6 L184.2,567.9 L187.7,566.7 L190.1,569.1 L194.7,569.5 L199.4,569.1 L204.1,568.6 L208.8,567.9 L212.3,563.2 L214.6,566.7 L218.1,564.4 L221.6,563.2 L225.1,563.2 L228.6,562 L231,553.9 L233.3,555 L235.6,551.5 L238,553.9 L240.3,549.2 L242.6,550.4 L246.1,548 L248.5,550.4 L250.8,539.9 L253.1,543.4 L255.5,536.4 L257.8,541.1 L260.2,535.2 L262.5,539.9 L264.8,537.5 L267.2,534.5 L274.6,534.5" stroke="#d33a30" stroke-width="1.8" fill="none" stroke-linejoin="round"/>
<path d="M76.4,540.5 L78.6,530.7 L80.8,521.9 L82.5,527.4 L84.3,518.6 L86.5,520.8 L88.6,514.2 L90.8,524.5 L93,520.8 L95.7,527.4 L100,529.1 L104.4,530.7 L108.8,526.3 L112.1,531.7 L117.6,535 L123,540.5 L130.7,547.1 L139.4,553.6 L148.2,558.7 L157,563.5 L167.9,567.4 L180,570.5 L193.1,572 L204.1,573.1 L215,570.9 L226,566.5 L236.9,559.9 L247.9,550.1 L256.6,541.3 L267,529.4 L275.2,518.9 L283.9,506.1 L288,503.7 L289.8,493.2 L291.5,490.9 L293.9,487.4 L295,476.9 L298.5,488.5 L300.3,476.3 L303.8,475.9" stroke="#3a5aa8" stroke-width="1.8" fill="none" stroke-linejoin="round"/>
<text x="85.5" y="471.2" font-size="16" font-weight="normal" fill="#3a3a3a" textLength="14.22" lengthAdjust="spacingAndGlyphs">(i)</text>
<path d="M104,466H117.7" stroke="#3a3a3a" stroke-width="1.3" fill="none"/><path d="M113.2,462L118.2,466L113.2,470" stroke="#3a3a3a" stroke-width="1.3" fill="none"/>
<text x="122.71" y="471.2" font-size="16" font-weight="normal" fill="#3a3a3a" textLength="17.65" lengthAdjust="spacingAndGlyphs">(ii)</text>
<path d="M153,466H197" stroke="#d33a30" stroke-width="1.8"/>
<text x="81.71" y="490" font-size="16" font-weight="normal" fill="#3a3a3a" textLength="17.54" lengthAdjust="spacingAndGlyphs">(ii)</text>
<path d="M104,484.8H117.7" stroke="#3a3a3a" stroke-width="1.3" fill="none"/><path d="M113.2,480.8L118.2,484.8L113.2,488.8" stroke="#3a3a3a" stroke-width="1.3" fill="none"/>
<text x="122.64" y="490" font-size="16" font-weight="normal" fill="#3a3a3a" textLength="22.56" lengthAdjust="spacingAndGlyphs">(iii)</text>
<path d="M153,484.8H197" stroke="#8cc04a" stroke-width="1.8"/>
<text x="77.76" y="508.9" font-size="16" font-weight="normal" fill="#3a3a3a" textLength="22.11" lengthAdjust="spacingAndGlyphs">(iii)</text>
<path d="M104,503.7H117.7" stroke="#3a3a3a" stroke-width="1.3" fill="none"/><path d="M113.2,499.7L118.2,503.7L113.2,507.7" stroke="#3a3a3a" stroke-width="1.3" fill="none"/>
<text x="122.66" y="508.9" font-size="16" font-weight="normal" fill="#3a3a3a" textLength="23.11" lengthAdjust="spacingAndGlyphs">(iv)</text>
<path d="M153,503.7H197" stroke="#3a5aa8" stroke-width="1.8"/>
<text x="335.18" y="452.4" font-size="27.5" font-weight="bold" fill="#1a1a1a" textLength="22.1" lengthAdjust="spacingAndGlyphs">D</text>
<path d="M382.7,451.5V645.4H673.2" fill="none" stroke="#1e1e1e" stroke-width="1.3"/>
<path d="M382.7,645.4h4" stroke="#1e1e1e" stroke-width="1"/>
<text x="358.49" y="651.3" font-size="16" font-weight="normal" fill="#111" textLength="22.13" lengthAdjust="spacingAndGlyphs">−1</text>
<path d="M382.7,596.92h4" stroke="#1e1e1e" stroke-width="1"/>
<text x="369.26" y="602.92" font-size="16" font-weight="normal" fill="#111" textLength="11.07" lengthAdjust="spacingAndGlyphs">0</text>
<path d="M382.7,548.45h4" stroke="#1e1e1e" stroke-width="1"/>
<text x="369.26" y="554.45" font-size="16" font-weight="normal" fill="#111" textLength="11.07" lengthAdjust="spacingAndGlyphs">1</text>
<path d="M382.7,499.98h4" stroke="#1e1e1e" stroke-width="1"/>
<text x="369.26" y="505.98" font-size="16" font-weight="normal" fill="#111" textLength="11.07" lengthAdjust="spacingAndGlyphs">2</text>
<path d="M382.7,451.5h4" stroke="#1e1e1e" stroke-width="1"/>
<text x="369.26" y="457.5" font-size="16" font-weight="normal" fill="#111" textLength="11.07" lengthAdjust="spacingAndGlyphs">3</text>
<path d="M382.7,645.4v-4" stroke="#1e1e1e" stroke-width="1"/>
<text x="377.91" y="663.6" font-size="16" font-weight="normal" fill="#111" textLength="11.07" lengthAdjust="spacingAndGlyphs">0</text>
<path d="M440.8,645.4v-4" stroke="#1e1e1e" stroke-width="1"/>
<text x="436.01" y="663.6" font-size="16" font-weight="normal" fill="#111" textLength="11.07" lengthAdjust="spacingAndGlyphs">5</text>
<path d="M498.9,645.4v-4" stroke="#1e1e1e" stroke-width="1"/>
<text x="489.41" y="663.6" font-size="16" font-weight="normal" fill="#111" textLength="20.36" lengthAdjust="spacingAndGlyphs">10</text>
<path d="M557,645.4v-4" stroke="#1e1e1e" stroke-width="1"/>
<text x="547.51" y="663.6" font-size="16" font-weight="normal" fill="#111" textLength="20.36" lengthAdjust="spacingAndGlyphs">15</text>
<path d="M615.1,645.4v-4" stroke="#1e1e1e" stroke-width="1"/>
<text x="605.61" y="663.6" font-size="16" font-weight="normal" fill="#111" textLength="20.36" lengthAdjust="spacingAndGlyphs">20</text>
<path d="M673.2,645.4v-4" stroke="#1e1e1e" stroke-width="1"/>
<text x="663.71" y="663.6" font-size="16" font-weight="normal" fill="#111" textLength="20.36" lengthAdjust="spacingAndGlyphs">25</text>
<text x="484.44" y="681.3" font-size="15.5" font-weight="normal" fill="#222" textLength="96.08" lengthAdjust="spacingAndGlyphs">distance (Å)</text>
<text transform="translate(362.5,636.3) rotate(-90)" x="0" y="0" font-size="15.5" font-weight="normal" fill="#222" textLength="172.83" lengthAdjust="spacingAndGlyphs">free energy (kcal/mol)</text>
<path d="M481.47,599.35 L493.09,538.75 L504.71,496.1 L516.33,503.85 L527.95,529.06 L539.57,571.23 L551.19,575.11 L562.81,579.96 L574.43,591.11 L586.05,596.44 L597.67,591.11 L609.29,583.35 L620.91,578.99 L632.53,577.53 L644.15,577.53 L655.77,578.5 L667.39,582.38" stroke="#d0403a" stroke-width="1.5" fill="none" stroke-dasharray="5,3"/>
<path d="M481.47,599.35 L493.09,531.97 L504.71,496.1 L516.33,503.85 L527.95,533.91 L539.57,565.9 L551.19,573.66 L562.81,578.5 L574.43,586.26 L586.05,591.59 L597.67,586.26 L609.29,580.93 L620.91,578.5 L632.53,577.53 L644.15,577.53 L655.77,580.93 L667.39,586.75" stroke="#d0403a" stroke-width="1.5" fill="none"/>
<path d="M434.99,485.43 L446.61,599.35 L458.23,640.55 L469.85,633.77 L481.47,599.35 L493.09,543.6 L504.71,532.45 L516.33,538.75 L527.95,553.3 L539.57,571.72 L551.19,577.53 L562.81,581.41 L574.43,600.8 L586.05,609.04 L597.67,606.14 L609.29,603.23 L620.91,600.8 L632.53,601.77 L644.15,602.74 L655.77,605.17 L667.39,610.01" stroke="#3a5aaa" stroke-width="1.5" fill="none" stroke-dasharray="5,3"/>
<path d="M434.99,485.43 L446.61,599.35 L458.23,641.52 L469.85,636.67 L481.47,599.35 L493.09,543.6 L504.71,533.91 L516.33,540.21 L527.95,555.24 L539.57,577.53 L551.19,582.38 L562.81,587.71 L574.43,601.77 L586.05,610.01 L597.67,606.62 L609.29,603.23 L620.91,599.35 L632.53,597.41 L644.15,597.41 L655.77,598.86 L667.39,603.71" stroke="#3a5aaa" stroke-width="1.5" fill="none"/>
<text x="565.22" y="469" font-size="15.5" font-weight="normal" fill="#222" textLength="35.99" lengthAdjust="spacingAndGlyphs">p53<tspan font-size="8.5" dy="1">0</tspan></text>
<text x="565.22" y="486" font-size="15.5" font-weight="normal" fill="#222" textLength="35.99" lengthAdjust="spacingAndGlyphs">p53<tspan font-size="8.5" dy="1">n</tspan></text>
<path d="M608.5,463.3H652.7" stroke="#d0403a" stroke-width="1.5"/>
<path d="M608.5,480.4H652.7" stroke="#3a5aaa" stroke-width="1.5"/>
</svg></body></html>
